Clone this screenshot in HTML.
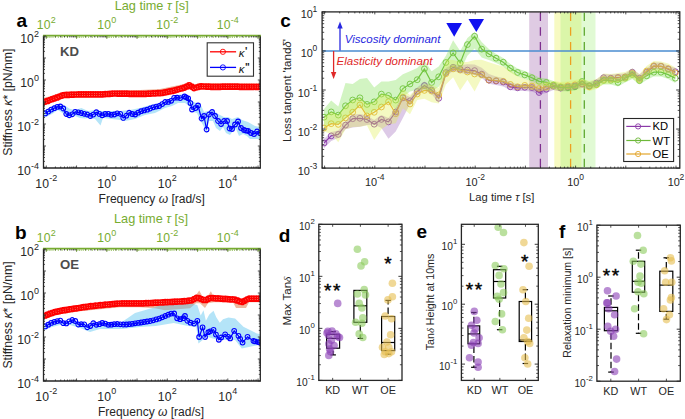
<!DOCTYPE html>
<html><head><meta charset="utf-8"><style>html,body{margin:0;padding:0;background:#fff;width:685px;height:419px;overflow:hidden}svg{display:block}text{font-family:"Liberation Sans",sans-serif}</style></head><body><svg width="685" height="419" viewBox="0 0 685 419" font-family="Liberation Sans, sans-serif"><clipPath id="cla"><rect x="43.5" y="36" width="216.8" height="132"/></clipPath>
<g clip-path="url(#cla)">
<path d="M44,98 L54,95 L64,92 L80,91.5 L100,91.5 L120,90.5 L140,90 L160,89 L172,86.5 L184,84 L189,82 L194,84.5 L200,83 L260,83.5 L260,88 L200,88 L194,89 L189,87 L184,89 L172,92 L160,95 L140,96 L120,96 L100,97 L80,97.5 L64,98 L54,101.5 L44,104Z" fill="#D95319" fill-opacity="0.42" stroke="none"/>
<path d="M44,111 L52,106 L58,104 L64,105 L69.5,108.7 L75,110 L81.4,108 L88,111 L95,110 L102,111 L110,111 L120,111 L130,110 L140,108 L150,105 L160,103 L170,99 L176,95 L185,94 L189,96 L192,101 L196,103 L200,103 L204,112 L208,111 L213,110 L218,114 L224,117 L228,117 L232,119 L238,117 L242,120 L248,122 L255,126 L260,127 L260,139 L255,139 L250,139 L247,136 L243,134 L239,136 L236,129 L233,131 L230,135 L226,133 L223,127 L220,131 L216,128 L213,121 L209,121 L206.5,133 L203,125 L200,120 L197,113 L193,112 L189,106 L185,103 L178,103 L172,106 L165,108 L155,113 L145,115 L135,119 L125,121 L120,120 L112,119 L103,118 L100.5,125.4 L95,119 L88,118 L85,118.5 L80,118 L75,116 L68,118 L64,114 L58,110 L52,114 L44,118Z" fill="#4DBEEE" fill-opacity="0.42" stroke="none"/>
<polyline points="45.2,101.6 47.6,100.9 50,100 52.4,99.1 54.8,98.3 57.2,97.4 59.6,96.5 62,95.6 64.4,95 66.8,94.9 69.2,94.8 71.6,94.7 74,94.6 76.4,94.5 78.8,94.4 81.2,94.4 83.6,94.4 86,94.4 88.4,94.4 90.8,94.4 93.2,94.4 95.6,94.4 98,94.4 100.4,94.4 102.8,94.3 105.2,94.1 107.6,94 110,93.8 112.4,93.6 114.8,93.5 117.2,93.6 119.6,93.6 122,93.7 124.4,93.7 126.8,93.7 129.2,93.8 131.6,93.8 134,93.8 136.4,93.8 138.8,93.9 141.2,93.9 143.6,93.9 146,93.8 148.4,93.7 150.8,93.6 153.2,93.4 155.6,93.3 158,93.2 160.4,93.1 162.8,92.8 165.2,92.3 167.6,91.8 170,91.3 172.4,90.9 174.8,90.3 177.2,89.6 179.6,89 182,88.3 184.4,87.6 186.8,86.5 189.2,85.3 191.6,86.7 194,88.2 196.4,87.5 198.8,86.8 201.2,86.4 203.6,86.5 206,86.6 208.4,86.7 210.8,86.8 213.2,86.8 215.6,86.9 218,86.8 220.4,86.8 222.8,86.7 225.2,86.7 227.6,86.6 230,86.6 232.4,86.6 234.8,86.7 237.2,86.7 239.6,86.8 242,86.8 244.4,86.9 246.8,86.9 249.2,86.9 251.6,86.9 254,86.8 256.4,86.8 258.8,86.8" fill="none" stroke="#FF0000" stroke-width="1.2"/>
<path d="M42.6,101.6a2.6,2.6 0 1,0 5.2,0a2.6,2.6 0 1,0 -5.2,0M45,100.9a2.6,2.6 0 1,0 5.2,0a2.6,2.6 0 1,0 -5.2,0M47.4,100a2.6,2.6 0 1,0 5.2,0a2.6,2.6 0 1,0 -5.2,0M49.8,99.1a2.6,2.6 0 1,0 5.2,0a2.6,2.6 0 1,0 -5.2,0M52.2,98.3a2.6,2.6 0 1,0 5.2,0a2.6,2.6 0 1,0 -5.2,0M54.6,97.4a2.6,2.6 0 1,0 5.2,0a2.6,2.6 0 1,0 -5.2,0M57,96.5a2.6,2.6 0 1,0 5.2,0a2.6,2.6 0 1,0 -5.2,0M59.4,95.6a2.6,2.6 0 1,0 5.2,0a2.6,2.6 0 1,0 -5.2,0M61.8,95a2.6,2.6 0 1,0 5.2,0a2.6,2.6 0 1,0 -5.2,0M64.2,94.9a2.6,2.6 0 1,0 5.2,0a2.6,2.6 0 1,0 -5.2,0M66.6,94.8a2.6,2.6 0 1,0 5.2,0a2.6,2.6 0 1,0 -5.2,0M69,94.7a2.6,2.6 0 1,0 5.2,0a2.6,2.6 0 1,0 -5.2,0M71.4,94.6a2.6,2.6 0 1,0 5.2,0a2.6,2.6 0 1,0 -5.2,0M73.8,94.5a2.6,2.6 0 1,0 5.2,0a2.6,2.6 0 1,0 -5.2,0M76.2,94.4a2.6,2.6 0 1,0 5.2,0a2.6,2.6 0 1,0 -5.2,0M78.6,94.4a2.6,2.6 0 1,0 5.2,0a2.6,2.6 0 1,0 -5.2,0M81,94.4a2.6,2.6 0 1,0 5.2,0a2.6,2.6 0 1,0 -5.2,0M83.4,94.4a2.6,2.6 0 1,0 5.2,0a2.6,2.6 0 1,0 -5.2,0M85.8,94.4a2.6,2.6 0 1,0 5.2,0a2.6,2.6 0 1,0 -5.2,0M88.2,94.4a2.6,2.6 0 1,0 5.2,0a2.6,2.6 0 1,0 -5.2,0M90.6,94.4a2.6,2.6 0 1,0 5.2,0a2.6,2.6 0 1,0 -5.2,0M93,94.4a2.6,2.6 0 1,0 5.2,0a2.6,2.6 0 1,0 -5.2,0M95.4,94.4a2.6,2.6 0 1,0 5.2,0a2.6,2.6 0 1,0 -5.2,0M97.8,94.4a2.6,2.6 0 1,0 5.2,0a2.6,2.6 0 1,0 -5.2,0M100.2,94.3a2.6,2.6 0 1,0 5.2,0a2.6,2.6 0 1,0 -5.2,0M102.6,94.1a2.6,2.6 0 1,0 5.2,0a2.6,2.6 0 1,0 -5.2,0M105,94a2.6,2.6 0 1,0 5.2,0a2.6,2.6 0 1,0 -5.2,0M107.4,93.8a2.6,2.6 0 1,0 5.2,0a2.6,2.6 0 1,0 -5.2,0M109.8,93.6a2.6,2.6 0 1,0 5.2,0a2.6,2.6 0 1,0 -5.2,0M112.2,93.5a2.6,2.6 0 1,0 5.2,0a2.6,2.6 0 1,0 -5.2,0M114.6,93.6a2.6,2.6 0 1,0 5.2,0a2.6,2.6 0 1,0 -5.2,0M117,93.6a2.6,2.6 0 1,0 5.2,0a2.6,2.6 0 1,0 -5.2,0M119.4,93.7a2.6,2.6 0 1,0 5.2,0a2.6,2.6 0 1,0 -5.2,0M121.8,93.7a2.6,2.6 0 1,0 5.2,0a2.6,2.6 0 1,0 -5.2,0M124.2,93.7a2.6,2.6 0 1,0 5.2,0a2.6,2.6 0 1,0 -5.2,0M126.6,93.8a2.6,2.6 0 1,0 5.2,0a2.6,2.6 0 1,0 -5.2,0M129,93.8a2.6,2.6 0 1,0 5.2,0a2.6,2.6 0 1,0 -5.2,0M131.4,93.8a2.6,2.6 0 1,0 5.2,0a2.6,2.6 0 1,0 -5.2,0M133.8,93.8a2.6,2.6 0 1,0 5.2,0a2.6,2.6 0 1,0 -5.2,0M136.2,93.9a2.6,2.6 0 1,0 5.2,0a2.6,2.6 0 1,0 -5.2,0M138.6,93.9a2.6,2.6 0 1,0 5.2,0a2.6,2.6 0 1,0 -5.2,0M141,93.9a2.6,2.6 0 1,0 5.2,0a2.6,2.6 0 1,0 -5.2,0M143.4,93.8a2.6,2.6 0 1,0 5.2,0a2.6,2.6 0 1,0 -5.2,0M145.8,93.7a2.6,2.6 0 1,0 5.2,0a2.6,2.6 0 1,0 -5.2,0M148.2,93.6a2.6,2.6 0 1,0 5.2,0a2.6,2.6 0 1,0 -5.2,0M150.6,93.4a2.6,2.6 0 1,0 5.2,0a2.6,2.6 0 1,0 -5.2,0M153,93.3a2.6,2.6 0 1,0 5.2,0a2.6,2.6 0 1,0 -5.2,0M155.4,93.2a2.6,2.6 0 1,0 5.2,0a2.6,2.6 0 1,0 -5.2,0M157.8,93.1a2.6,2.6 0 1,0 5.2,0a2.6,2.6 0 1,0 -5.2,0M160.2,92.8a2.6,2.6 0 1,0 5.2,0a2.6,2.6 0 1,0 -5.2,0M162.6,92.3a2.6,2.6 0 1,0 5.2,0a2.6,2.6 0 1,0 -5.2,0M165,91.8a2.6,2.6 0 1,0 5.2,0a2.6,2.6 0 1,0 -5.2,0M167.4,91.3a2.6,2.6 0 1,0 5.2,0a2.6,2.6 0 1,0 -5.2,0M169.8,90.9a2.6,2.6 0 1,0 5.2,0a2.6,2.6 0 1,0 -5.2,0M172.2,90.3a2.6,2.6 0 1,0 5.2,0a2.6,2.6 0 1,0 -5.2,0M174.6,89.6a2.6,2.6 0 1,0 5.2,0a2.6,2.6 0 1,0 -5.2,0M177,89a2.6,2.6 0 1,0 5.2,0a2.6,2.6 0 1,0 -5.2,0M179.4,88.3a2.6,2.6 0 1,0 5.2,0a2.6,2.6 0 1,0 -5.2,0M181.8,87.6a2.6,2.6 0 1,0 5.2,0a2.6,2.6 0 1,0 -5.2,0M184.2,86.5a2.6,2.6 0 1,0 5.2,0a2.6,2.6 0 1,0 -5.2,0M186.6,85.3a2.6,2.6 0 1,0 5.2,0a2.6,2.6 0 1,0 -5.2,0M189,86.7a2.6,2.6 0 1,0 5.2,0a2.6,2.6 0 1,0 -5.2,0M191.4,88.2a2.6,2.6 0 1,0 5.2,0a2.6,2.6 0 1,0 -5.2,0M193.8,87.5a2.6,2.6 0 1,0 5.2,0a2.6,2.6 0 1,0 -5.2,0M196.2,86.8a2.6,2.6 0 1,0 5.2,0a2.6,2.6 0 1,0 -5.2,0M198.6,86.4a2.6,2.6 0 1,0 5.2,0a2.6,2.6 0 1,0 -5.2,0M201,86.5a2.6,2.6 0 1,0 5.2,0a2.6,2.6 0 1,0 -5.2,0M203.4,86.6a2.6,2.6 0 1,0 5.2,0a2.6,2.6 0 1,0 -5.2,0M205.8,86.7a2.6,2.6 0 1,0 5.2,0a2.6,2.6 0 1,0 -5.2,0M208.2,86.8a2.6,2.6 0 1,0 5.2,0a2.6,2.6 0 1,0 -5.2,0M210.6,86.8a2.6,2.6 0 1,0 5.2,0a2.6,2.6 0 1,0 -5.2,0M213,86.9a2.6,2.6 0 1,0 5.2,0a2.6,2.6 0 1,0 -5.2,0M215.4,86.8a2.6,2.6 0 1,0 5.2,0a2.6,2.6 0 1,0 -5.2,0M217.8,86.8a2.6,2.6 0 1,0 5.2,0a2.6,2.6 0 1,0 -5.2,0M220.2,86.7a2.6,2.6 0 1,0 5.2,0a2.6,2.6 0 1,0 -5.2,0M222.6,86.7a2.6,2.6 0 1,0 5.2,0a2.6,2.6 0 1,0 -5.2,0M225,86.6a2.6,2.6 0 1,0 5.2,0a2.6,2.6 0 1,0 -5.2,0M227.4,86.6a2.6,2.6 0 1,0 5.2,0a2.6,2.6 0 1,0 -5.2,0M229.8,86.6a2.6,2.6 0 1,0 5.2,0a2.6,2.6 0 1,0 -5.2,0M232.2,86.7a2.6,2.6 0 1,0 5.2,0a2.6,2.6 0 1,0 -5.2,0M234.6,86.7a2.6,2.6 0 1,0 5.2,0a2.6,2.6 0 1,0 -5.2,0M237,86.8a2.6,2.6 0 1,0 5.2,0a2.6,2.6 0 1,0 -5.2,0M239.4,86.8a2.6,2.6 0 1,0 5.2,0a2.6,2.6 0 1,0 -5.2,0M241.8,86.9a2.6,2.6 0 1,0 5.2,0a2.6,2.6 0 1,0 -5.2,0M244.2,86.9a2.6,2.6 0 1,0 5.2,0a2.6,2.6 0 1,0 -5.2,0M246.6,86.9a2.6,2.6 0 1,0 5.2,0a2.6,2.6 0 1,0 -5.2,0M249,86.9a2.6,2.6 0 1,0 5.2,0a2.6,2.6 0 1,0 -5.2,0M251.4,86.8a2.6,2.6 0 1,0 5.2,0a2.6,2.6 0 1,0 -5.2,0M253.8,86.8a2.6,2.6 0 1,0 5.2,0a2.6,2.6 0 1,0 -5.2,0M256.2,86.8a2.6,2.6 0 1,0 5.2,0a2.6,2.6 0 1,0 -5.2,0" fill="none" stroke="#FF0000" stroke-width="1.5"/>
<polyline points="45.2,113.4 48.2,111.6 51.2,109.6 54.2,108.2 57.2,106.9 60.2,106.5 63.2,108.5 66.2,114 69.2,115.3 72.2,114.3 75.2,111.8 78.2,112.3 81.2,113 84.2,113.8 87.2,114.5 90.2,116 93.2,114.6 96.2,112.2 99.2,113.9 102.2,115.3 105.2,114 108.2,113.9 111.2,114.8 114.2,114.5 117.2,113.3 120.2,113.8 123.2,117.9 126.2,115.7 129.2,112.7 132.2,114 135.2,114.5 138.2,112.7 141.2,111.2 144.2,110.4 147.2,109.7 150.2,108.5 153.2,107.3 156.2,106.6 159.2,106 162.2,104.1 165.2,102 168.2,101.9 171.2,100.8 174.2,97.8 177.2,97.7 180.2,98.1 184.5,96.5 186.2,97.3 188.1,98.3 190.4,103.1 192,109.5 195.5,108 198,105.5 201.5,118.5 204,116 206.5,129.5 209,114.5 212,112 215,116 218,121 221,124 224,121 227,121 229.5,128.5 232,129 235,124.5 238,121.5 241,128 244,130 246.2,130.6 248,131 251,133 254,134 257,131.5 260,133" fill="none" stroke="#0000FF" stroke-width="1.2"/>
<path d="M42.9,113.4a2.35,2.35 0 1,0 4.7,0a2.35,2.35 0 1,0 -4.7,0M45.9,111.6a2.35,2.35 0 1,0 4.7,0a2.35,2.35 0 1,0 -4.7,0M48.9,109.6a2.35,2.35 0 1,0 4.7,0a2.35,2.35 0 1,0 -4.7,0M51.9,108.2a2.35,2.35 0 1,0 4.7,0a2.35,2.35 0 1,0 -4.7,0M54.9,106.9a2.35,2.35 0 1,0 4.7,0a2.35,2.35 0 1,0 -4.7,0M57.9,106.5a2.35,2.35 0 1,0 4.7,0a2.35,2.35 0 1,0 -4.7,0M60.9,108.5a2.35,2.35 0 1,0 4.7,0a2.35,2.35 0 1,0 -4.7,0M63.9,114a2.35,2.35 0 1,0 4.7,0a2.35,2.35 0 1,0 -4.7,0M66.9,115.3a2.35,2.35 0 1,0 4.7,0a2.35,2.35 0 1,0 -4.7,0M69.9,114.3a2.35,2.35 0 1,0 4.7,0a2.35,2.35 0 1,0 -4.7,0M72.9,111.8a2.35,2.35 0 1,0 4.7,0a2.35,2.35 0 1,0 -4.7,0M75.9,112.3a2.35,2.35 0 1,0 4.7,0a2.35,2.35 0 1,0 -4.7,0M78.9,113a2.35,2.35 0 1,0 4.7,0a2.35,2.35 0 1,0 -4.7,0M81.9,113.8a2.35,2.35 0 1,0 4.7,0a2.35,2.35 0 1,0 -4.7,0M84.9,114.5a2.35,2.35 0 1,0 4.7,0a2.35,2.35 0 1,0 -4.7,0M87.9,116a2.35,2.35 0 1,0 4.7,0a2.35,2.35 0 1,0 -4.7,0M90.9,114.6a2.35,2.35 0 1,0 4.7,0a2.35,2.35 0 1,0 -4.7,0M93.9,112.2a2.35,2.35 0 1,0 4.7,0a2.35,2.35 0 1,0 -4.7,0M96.9,113.9a2.35,2.35 0 1,0 4.7,0a2.35,2.35 0 1,0 -4.7,0M99.9,115.3a2.35,2.35 0 1,0 4.7,0a2.35,2.35 0 1,0 -4.7,0M102.9,114a2.35,2.35 0 1,0 4.7,0a2.35,2.35 0 1,0 -4.7,0M105.9,113.9a2.35,2.35 0 1,0 4.7,0a2.35,2.35 0 1,0 -4.7,0M108.9,114.8a2.35,2.35 0 1,0 4.7,0a2.35,2.35 0 1,0 -4.7,0M111.9,114.5a2.35,2.35 0 1,0 4.7,0a2.35,2.35 0 1,0 -4.7,0M114.9,113.3a2.35,2.35 0 1,0 4.7,0a2.35,2.35 0 1,0 -4.7,0M117.9,113.8a2.35,2.35 0 1,0 4.7,0a2.35,2.35 0 1,0 -4.7,0M120.9,117.9a2.35,2.35 0 1,0 4.7,0a2.35,2.35 0 1,0 -4.7,0M123.9,115.7a2.35,2.35 0 1,0 4.7,0a2.35,2.35 0 1,0 -4.7,0M126.8,112.7a2.35,2.35 0 1,0 4.7,0a2.35,2.35 0 1,0 -4.7,0M129.8,114a2.35,2.35 0 1,0 4.7,0a2.35,2.35 0 1,0 -4.7,0M132.8,114.5a2.35,2.35 0 1,0 4.7,0a2.35,2.35 0 1,0 -4.7,0M135.8,112.7a2.35,2.35 0 1,0 4.7,0a2.35,2.35 0 1,0 -4.7,0M138.8,111.2a2.35,2.35 0 1,0 4.7,0a2.35,2.35 0 1,0 -4.7,0M141.8,110.4a2.35,2.35 0 1,0 4.7,0a2.35,2.35 0 1,0 -4.7,0M144.8,109.7a2.35,2.35 0 1,0 4.7,0a2.35,2.35 0 1,0 -4.7,0M147.8,108.5a2.35,2.35 0 1,0 4.7,0a2.35,2.35 0 1,0 -4.7,0M150.8,107.3a2.35,2.35 0 1,0 4.7,0a2.35,2.35 0 1,0 -4.7,0M153.8,106.6a2.35,2.35 0 1,0 4.7,0a2.35,2.35 0 1,0 -4.7,0M156.8,106a2.35,2.35 0 1,0 4.7,0a2.35,2.35 0 1,0 -4.7,0M159.8,104.1a2.35,2.35 0 1,0 4.7,0a2.35,2.35 0 1,0 -4.7,0M162.8,102a2.35,2.35 0 1,0 4.7,0a2.35,2.35 0 1,0 -4.7,0M165.8,101.9a2.35,2.35 0 1,0 4.7,0a2.35,2.35 0 1,0 -4.7,0M168.8,100.8a2.35,2.35 0 1,0 4.7,0a2.35,2.35 0 1,0 -4.7,0M171.8,97.8a2.35,2.35 0 1,0 4.7,0a2.35,2.35 0 1,0 -4.7,0M174.8,97.7a2.35,2.35 0 1,0 4.7,0a2.35,2.35 0 1,0 -4.7,0M177.8,98.1a2.35,2.35 0 1,0 4.7,0a2.35,2.35 0 1,0 -4.7,0M182.2,96.5a2.35,2.35 0 1,0 4.7,0a2.35,2.35 0 1,0 -4.7,0M183.8,97.3a2.35,2.35 0 1,0 4.7,0a2.35,2.35 0 1,0 -4.7,0M185.8,98.3a2.35,2.35 0 1,0 4.7,0a2.35,2.35 0 1,0 -4.7,0M188.1,103.1a2.35,2.35 0 1,0 4.7,0a2.35,2.35 0 1,0 -4.7,0M189.7,109.5a2.35,2.35 0 1,0 4.7,0a2.35,2.35 0 1,0 -4.7,0M193.2,108a2.35,2.35 0 1,0 4.7,0a2.35,2.35 0 1,0 -4.7,0M195.7,105.5a2.35,2.35 0 1,0 4.7,0a2.35,2.35 0 1,0 -4.7,0M199.2,118.5a2.35,2.35 0 1,0 4.7,0a2.35,2.35 0 1,0 -4.7,0M201.7,116a2.35,2.35 0 1,0 4.7,0a2.35,2.35 0 1,0 -4.7,0M204.2,129.5a2.35,2.35 0 1,0 4.7,0a2.35,2.35 0 1,0 -4.7,0M206.7,114.5a2.35,2.35 0 1,0 4.7,0a2.35,2.35 0 1,0 -4.7,0M209.7,112a2.35,2.35 0 1,0 4.7,0a2.35,2.35 0 1,0 -4.7,0M212.7,116a2.35,2.35 0 1,0 4.7,0a2.35,2.35 0 1,0 -4.7,0M215.7,121a2.35,2.35 0 1,0 4.7,0a2.35,2.35 0 1,0 -4.7,0M218.7,124a2.35,2.35 0 1,0 4.7,0a2.35,2.35 0 1,0 -4.7,0M221.7,121a2.35,2.35 0 1,0 4.7,0a2.35,2.35 0 1,0 -4.7,0M224.7,121a2.35,2.35 0 1,0 4.7,0a2.35,2.35 0 1,0 -4.7,0M227.2,128.5a2.35,2.35 0 1,0 4.7,0a2.35,2.35 0 1,0 -4.7,0M229.7,129a2.35,2.35 0 1,0 4.7,0a2.35,2.35 0 1,0 -4.7,0M232.7,124.5a2.35,2.35 0 1,0 4.7,0a2.35,2.35 0 1,0 -4.7,0M235.7,121.5a2.35,2.35 0 1,0 4.7,0a2.35,2.35 0 1,0 -4.7,0M238.7,128a2.35,2.35 0 1,0 4.7,0a2.35,2.35 0 1,0 -4.7,0M241.7,130a2.35,2.35 0 1,0 4.7,0a2.35,2.35 0 1,0 -4.7,0M243.8,130.6a2.35,2.35 0 1,0 4.7,0a2.35,2.35 0 1,0 -4.7,0M245.7,131a2.35,2.35 0 1,0 4.7,0a2.35,2.35 0 1,0 -4.7,0M248.7,133a2.35,2.35 0 1,0 4.7,0a2.35,2.35 0 1,0 -4.7,0M251.7,134a2.35,2.35 0 1,0 4.7,0a2.35,2.35 0 1,0 -4.7,0M254.7,131.5a2.35,2.35 0 1,0 4.7,0a2.35,2.35 0 1,0 -4.7,0M257.6,133a2.35,2.35 0 1,0 4.7,0a2.35,2.35 0 1,0 -4.7,0" fill="none" stroke="#0000FF" stroke-width="1.1"/>
</g>
<clipPath id="clb"><rect x="43.5" y="249" width="216.8" height="132"/></clipPath>
<g clip-path="url(#clb)">
<path d="M44,313.2 L60,308.2 L80,305.2 L100,302.7 L120,301.2 L160,299.7 L190,298.2 L196,295.2 L199.2,290.4 L203,297.2 L207,297.2 L210.9,291.2 L214,297.2 L235,297.2 L242,299.7 L248,296.7 L260,296.7 L260,302.2 L249,302.2 L246,307.9 L236,307.9 L233,302.2 L214,302.2 L208,303.2 L205,307.9 L200,303.2 L196,303.2 L190,308.2 L165,310.2 L155,308.2 L140,307.2 L120,307.2 L100,309.2 L80,311.2 L60,314.2 L44,319.2Z" fill="#D95319" fill-opacity="0.42" stroke="none"/>
<path d="M44,325 L52,321 L60,319.5 L65,323 L71,319.5 L78,322 L84,322.5 L89,325 L92,322 L97,323 L103,321.5 L109,323 L116,322 L122,322 L135,313 L155.8,306.9 L160.6,305.1 L175,304 L191.6,303.5 L197.3,305 L200.7,315.5 L203.5,310.3 L205.9,320.8 L209.3,314.5 L213.5,310.7 L216.4,317.4 L219.8,322.7 L223,319.3 L228.4,317.6 L235.1,318.4 L243.4,326.7 L256.8,333.4 L260,334 L260,345 L258.5,345.1 L241.8,348.4 L235.1,340.1 L218.4,340.1 L206.7,336.8 L198.4,343.4 L196.4,327.2 L185.7,325.4 L173.7,323 L155.8,326 L140,327 L122,329 L110,329 L100,329 L90,332 L80,328 L70,325 L60,325 L52,327 L44,330Z" fill="#4DBEEE" fill-opacity="0.42" stroke="none"/>
<polyline points="45.2,315.5 47.6,314.6 50,313.7 52.4,312.8 54.8,312 57.2,311.6 59.6,311.1 62,310.6 64.4,310.2 66.8,309.8 69.2,309.4 71.6,309 74,308.7 76.4,308.3 78.8,308 81.2,307.6 83.6,307.2 86,306.9 88.4,306.5 90.8,306.2 93.2,306 95.6,305.7 98,305.5 100.4,305.2 102.8,305 105.2,304.7 107.6,304.5 110,304.3 112.4,304 114.8,303.8 117.2,303.6 119.6,303.5 122,303.3 124.4,303.3 126.8,303.3 129.2,303.3 131.6,303.3 134,303.3 136.4,303.3 138.8,303.3 141.2,303.3 143.6,303.3 146,303.2 148.4,303.1 150.8,303 153.2,302.8 155.6,302.7 158,302.6 160.4,302.5 162.8,302.4 165.2,302.2 167.6,302.1 170,302 172.4,301.9 174.8,301.7 177.2,301.6 179.6,301.5 182,301.4 184.4,301.2 186.8,301 189.2,300.6 191.6,300.3 194,299.1 196.4,297.9 198.8,298.1 201.2,299 203.6,299.9 206,299.9 208.4,298.7 210.8,298 213.2,298.1 215.6,298.3 218,298.4 220.4,298.6 222.8,298.8 225.2,298.9 227.6,299.1 230,299.3 232.4,299.4 234.8,299.6 237.2,300.4 239.6,301.3 242,302 244.4,300.8 246.8,299.5 249.2,298.7 251.6,298.7 254,298.7 256.4,298.7 258.8,298.7" fill="none" stroke="#FF0000" stroke-width="1.2"/>
<path d="M42.6,315.5a2.6,2.6 0 1,0 5.2,0a2.6,2.6 0 1,0 -5.2,0M45,314.6a2.6,2.6 0 1,0 5.2,0a2.6,2.6 0 1,0 -5.2,0M47.4,313.7a2.6,2.6 0 1,0 5.2,0a2.6,2.6 0 1,0 -5.2,0M49.8,312.8a2.6,2.6 0 1,0 5.2,0a2.6,2.6 0 1,0 -5.2,0M52.2,312a2.6,2.6 0 1,0 5.2,0a2.6,2.6 0 1,0 -5.2,0M54.6,311.6a2.6,2.6 0 1,0 5.2,0a2.6,2.6 0 1,0 -5.2,0M57,311.1a2.6,2.6 0 1,0 5.2,0a2.6,2.6 0 1,0 -5.2,0M59.4,310.6a2.6,2.6 0 1,0 5.2,0a2.6,2.6 0 1,0 -5.2,0M61.8,310.2a2.6,2.6 0 1,0 5.2,0a2.6,2.6 0 1,0 -5.2,0M64.2,309.8a2.6,2.6 0 1,0 5.2,0a2.6,2.6 0 1,0 -5.2,0M66.6,309.4a2.6,2.6 0 1,0 5.2,0a2.6,2.6 0 1,0 -5.2,0M69,309a2.6,2.6 0 1,0 5.2,0a2.6,2.6 0 1,0 -5.2,0M71.4,308.7a2.6,2.6 0 1,0 5.2,0a2.6,2.6 0 1,0 -5.2,0M73.8,308.3a2.6,2.6 0 1,0 5.2,0a2.6,2.6 0 1,0 -5.2,0M76.2,308a2.6,2.6 0 1,0 5.2,0a2.6,2.6 0 1,0 -5.2,0M78.6,307.6a2.6,2.6 0 1,0 5.2,0a2.6,2.6 0 1,0 -5.2,0M81,307.2a2.6,2.6 0 1,0 5.2,0a2.6,2.6 0 1,0 -5.2,0M83.4,306.9a2.6,2.6 0 1,0 5.2,0a2.6,2.6 0 1,0 -5.2,0M85.8,306.5a2.6,2.6 0 1,0 5.2,0a2.6,2.6 0 1,0 -5.2,0M88.2,306.2a2.6,2.6 0 1,0 5.2,0a2.6,2.6 0 1,0 -5.2,0M90.6,306a2.6,2.6 0 1,0 5.2,0a2.6,2.6 0 1,0 -5.2,0M93,305.7a2.6,2.6 0 1,0 5.2,0a2.6,2.6 0 1,0 -5.2,0M95.4,305.5a2.6,2.6 0 1,0 5.2,0a2.6,2.6 0 1,0 -5.2,0M97.8,305.2a2.6,2.6 0 1,0 5.2,0a2.6,2.6 0 1,0 -5.2,0M100.2,305a2.6,2.6 0 1,0 5.2,0a2.6,2.6 0 1,0 -5.2,0M102.6,304.7a2.6,2.6 0 1,0 5.2,0a2.6,2.6 0 1,0 -5.2,0M105,304.5a2.6,2.6 0 1,0 5.2,0a2.6,2.6 0 1,0 -5.2,0M107.4,304.3a2.6,2.6 0 1,0 5.2,0a2.6,2.6 0 1,0 -5.2,0M109.8,304a2.6,2.6 0 1,0 5.2,0a2.6,2.6 0 1,0 -5.2,0M112.2,303.8a2.6,2.6 0 1,0 5.2,0a2.6,2.6 0 1,0 -5.2,0M114.6,303.6a2.6,2.6 0 1,0 5.2,0a2.6,2.6 0 1,0 -5.2,0M117,303.5a2.6,2.6 0 1,0 5.2,0a2.6,2.6 0 1,0 -5.2,0M119.4,303.3a2.6,2.6 0 1,0 5.2,0a2.6,2.6 0 1,0 -5.2,0M121.8,303.3a2.6,2.6 0 1,0 5.2,0a2.6,2.6 0 1,0 -5.2,0M124.2,303.3a2.6,2.6 0 1,0 5.2,0a2.6,2.6 0 1,0 -5.2,0M126.6,303.3a2.6,2.6 0 1,0 5.2,0a2.6,2.6 0 1,0 -5.2,0M129,303.3a2.6,2.6 0 1,0 5.2,0a2.6,2.6 0 1,0 -5.2,0M131.4,303.3a2.6,2.6 0 1,0 5.2,0a2.6,2.6 0 1,0 -5.2,0M133.8,303.3a2.6,2.6 0 1,0 5.2,0a2.6,2.6 0 1,0 -5.2,0M136.2,303.3a2.6,2.6 0 1,0 5.2,0a2.6,2.6 0 1,0 -5.2,0M138.6,303.3a2.6,2.6 0 1,0 5.2,0a2.6,2.6 0 1,0 -5.2,0M141,303.3a2.6,2.6 0 1,0 5.2,0a2.6,2.6 0 1,0 -5.2,0M143.4,303.2a2.6,2.6 0 1,0 5.2,0a2.6,2.6 0 1,0 -5.2,0M145.8,303.1a2.6,2.6 0 1,0 5.2,0a2.6,2.6 0 1,0 -5.2,0M148.2,303a2.6,2.6 0 1,0 5.2,0a2.6,2.6 0 1,0 -5.2,0M150.6,302.8a2.6,2.6 0 1,0 5.2,0a2.6,2.6 0 1,0 -5.2,0M153,302.7a2.6,2.6 0 1,0 5.2,0a2.6,2.6 0 1,0 -5.2,0M155.4,302.6a2.6,2.6 0 1,0 5.2,0a2.6,2.6 0 1,0 -5.2,0M157.8,302.5a2.6,2.6 0 1,0 5.2,0a2.6,2.6 0 1,0 -5.2,0M160.2,302.4a2.6,2.6 0 1,0 5.2,0a2.6,2.6 0 1,0 -5.2,0M162.6,302.2a2.6,2.6 0 1,0 5.2,0a2.6,2.6 0 1,0 -5.2,0M165,302.1a2.6,2.6 0 1,0 5.2,0a2.6,2.6 0 1,0 -5.2,0M167.4,302a2.6,2.6 0 1,0 5.2,0a2.6,2.6 0 1,0 -5.2,0M169.8,301.9a2.6,2.6 0 1,0 5.2,0a2.6,2.6 0 1,0 -5.2,0M172.2,301.7a2.6,2.6 0 1,0 5.2,0a2.6,2.6 0 1,0 -5.2,0M174.6,301.6a2.6,2.6 0 1,0 5.2,0a2.6,2.6 0 1,0 -5.2,0M177,301.5a2.6,2.6 0 1,0 5.2,0a2.6,2.6 0 1,0 -5.2,0M179.4,301.4a2.6,2.6 0 1,0 5.2,0a2.6,2.6 0 1,0 -5.2,0M181.8,301.2a2.6,2.6 0 1,0 5.2,0a2.6,2.6 0 1,0 -5.2,0M184.2,301a2.6,2.6 0 1,0 5.2,0a2.6,2.6 0 1,0 -5.2,0M186.6,300.6a2.6,2.6 0 1,0 5.2,0a2.6,2.6 0 1,0 -5.2,0M189,300.3a2.6,2.6 0 1,0 5.2,0a2.6,2.6 0 1,0 -5.2,0M191.4,299.1a2.6,2.6 0 1,0 5.2,0a2.6,2.6 0 1,0 -5.2,0M193.8,297.9a2.6,2.6 0 1,0 5.2,0a2.6,2.6 0 1,0 -5.2,0M196.2,298.1a2.6,2.6 0 1,0 5.2,0a2.6,2.6 0 1,0 -5.2,0M198.6,299a2.6,2.6 0 1,0 5.2,0a2.6,2.6 0 1,0 -5.2,0M201,299.9a2.6,2.6 0 1,0 5.2,0a2.6,2.6 0 1,0 -5.2,0M203.4,299.9a2.6,2.6 0 1,0 5.2,0a2.6,2.6 0 1,0 -5.2,0M205.8,298.7a2.6,2.6 0 1,0 5.2,0a2.6,2.6 0 1,0 -5.2,0M208.2,298a2.6,2.6 0 1,0 5.2,0a2.6,2.6 0 1,0 -5.2,0M210.6,298.1a2.6,2.6 0 1,0 5.2,0a2.6,2.6 0 1,0 -5.2,0M213,298.3a2.6,2.6 0 1,0 5.2,0a2.6,2.6 0 1,0 -5.2,0M215.4,298.4a2.6,2.6 0 1,0 5.2,0a2.6,2.6 0 1,0 -5.2,0M217.8,298.6a2.6,2.6 0 1,0 5.2,0a2.6,2.6 0 1,0 -5.2,0M220.2,298.8a2.6,2.6 0 1,0 5.2,0a2.6,2.6 0 1,0 -5.2,0M222.6,298.9a2.6,2.6 0 1,0 5.2,0a2.6,2.6 0 1,0 -5.2,0M225,299.1a2.6,2.6 0 1,0 5.2,0a2.6,2.6 0 1,0 -5.2,0M227.4,299.3a2.6,2.6 0 1,0 5.2,0a2.6,2.6 0 1,0 -5.2,0M229.8,299.4a2.6,2.6 0 1,0 5.2,0a2.6,2.6 0 1,0 -5.2,0M232.2,299.6a2.6,2.6 0 1,0 5.2,0a2.6,2.6 0 1,0 -5.2,0M234.6,300.4a2.6,2.6 0 1,0 5.2,0a2.6,2.6 0 1,0 -5.2,0M237,301.3a2.6,2.6 0 1,0 5.2,0a2.6,2.6 0 1,0 -5.2,0M239.4,302a2.6,2.6 0 1,0 5.2,0a2.6,2.6 0 1,0 -5.2,0M241.8,300.8a2.6,2.6 0 1,0 5.2,0a2.6,2.6 0 1,0 -5.2,0M244.2,299.5a2.6,2.6 0 1,0 5.2,0a2.6,2.6 0 1,0 -5.2,0M246.6,298.7a2.6,2.6 0 1,0 5.2,0a2.6,2.6 0 1,0 -5.2,0M249,298.7a2.6,2.6 0 1,0 5.2,0a2.6,2.6 0 1,0 -5.2,0M251.4,298.7a2.6,2.6 0 1,0 5.2,0a2.6,2.6 0 1,0 -5.2,0M253.8,298.7a2.6,2.6 0 1,0 5.2,0a2.6,2.6 0 1,0 -5.2,0M256.2,298.7a2.6,2.6 0 1,0 5.2,0a2.6,2.6 0 1,0 -5.2,0" fill="none" stroke="#FF0000" stroke-width="1.5"/>
<polyline points="45.2,326.4 48.2,324.7 51.2,322.9 54.2,321.9 57.2,321.1 60.2,320.6 63.2,323.2 66.2,323.4 69.2,321.4 72.2,320 75.2,321 78.2,324.5 81.2,324.2 84.2,324.3 87.2,327.3 90.2,326 93.2,323.2 96.2,324.8 99.2,324.2 102.2,323 105.2,323.6 108.2,324.8 111.2,324.7 114.2,324.2 117.2,324 120.2,324.3 123.2,324.5 126.2,324.5 129.2,324.2 132.2,323.8 135.2,323.3 138.2,322.9 141.2,322.5 144.2,322 147.2,321.5 150.2,321 153.2,320.3 156.2,319.4 159.2,318.6 162.2,317.3 165.2,316 168.2,314.7 171.2,313.6 174.2,313.5 177.2,318.3 180.2,319.2 183.2,318.2 184.9,316 187.3,320.8 190.6,322.7 194,323.6 197.3,320.8 199.2,337 202.6,327.4 205,337 208.3,332.2 210.2,331.3 213.5,329.8 215.9,334.6 218.8,339.8 221.2,337.5 225.1,334.3 228.2,336.8 230.1,338.4 234.2,330.9 238.4,335.9 240.2,338.8 242.6,342.6 247.6,336.8 253.4,340.9 255.2,341.4 258.2,342.1 260,342.6" fill="none" stroke="#0000FF" stroke-width="1.2"/>
<path d="M42.9,326.4a2.35,2.35 0 1,0 4.7,0a2.35,2.35 0 1,0 -4.7,0M45.9,324.7a2.35,2.35 0 1,0 4.7,0a2.35,2.35 0 1,0 -4.7,0M48.9,322.9a2.35,2.35 0 1,0 4.7,0a2.35,2.35 0 1,0 -4.7,0M51.9,321.9a2.35,2.35 0 1,0 4.7,0a2.35,2.35 0 1,0 -4.7,0M54.9,321.1a2.35,2.35 0 1,0 4.7,0a2.35,2.35 0 1,0 -4.7,0M57.9,320.6a2.35,2.35 0 1,0 4.7,0a2.35,2.35 0 1,0 -4.7,0M60.9,323.2a2.35,2.35 0 1,0 4.7,0a2.35,2.35 0 1,0 -4.7,0M63.9,323.4a2.35,2.35 0 1,0 4.7,0a2.35,2.35 0 1,0 -4.7,0M66.9,321.4a2.35,2.35 0 1,0 4.7,0a2.35,2.35 0 1,0 -4.7,0M69.9,320a2.35,2.35 0 1,0 4.7,0a2.35,2.35 0 1,0 -4.7,0M72.9,321a2.35,2.35 0 1,0 4.7,0a2.35,2.35 0 1,0 -4.7,0M75.9,324.5a2.35,2.35 0 1,0 4.7,0a2.35,2.35 0 1,0 -4.7,0M78.9,324.2a2.35,2.35 0 1,0 4.7,0a2.35,2.35 0 1,0 -4.7,0M81.9,324.3a2.35,2.35 0 1,0 4.7,0a2.35,2.35 0 1,0 -4.7,0M84.9,327.3a2.35,2.35 0 1,0 4.7,0a2.35,2.35 0 1,0 -4.7,0M87.9,326a2.35,2.35 0 1,0 4.7,0a2.35,2.35 0 1,0 -4.7,0M90.9,323.2a2.35,2.35 0 1,0 4.7,0a2.35,2.35 0 1,0 -4.7,0M93.9,324.8a2.35,2.35 0 1,0 4.7,0a2.35,2.35 0 1,0 -4.7,0M96.9,324.2a2.35,2.35 0 1,0 4.7,0a2.35,2.35 0 1,0 -4.7,0M99.9,323a2.35,2.35 0 1,0 4.7,0a2.35,2.35 0 1,0 -4.7,0M102.9,323.6a2.35,2.35 0 1,0 4.7,0a2.35,2.35 0 1,0 -4.7,0M105.9,324.8a2.35,2.35 0 1,0 4.7,0a2.35,2.35 0 1,0 -4.7,0M108.9,324.7a2.35,2.35 0 1,0 4.7,0a2.35,2.35 0 1,0 -4.7,0M111.9,324.2a2.35,2.35 0 1,0 4.7,0a2.35,2.35 0 1,0 -4.7,0M114.9,324a2.35,2.35 0 1,0 4.7,0a2.35,2.35 0 1,0 -4.7,0M117.9,324.3a2.35,2.35 0 1,0 4.7,0a2.35,2.35 0 1,0 -4.7,0M120.9,324.5a2.35,2.35 0 1,0 4.7,0a2.35,2.35 0 1,0 -4.7,0M123.9,324.5a2.35,2.35 0 1,0 4.7,0a2.35,2.35 0 1,0 -4.7,0M126.8,324.2a2.35,2.35 0 1,0 4.7,0a2.35,2.35 0 1,0 -4.7,0M129.8,323.8a2.35,2.35 0 1,0 4.7,0a2.35,2.35 0 1,0 -4.7,0M132.8,323.3a2.35,2.35 0 1,0 4.7,0a2.35,2.35 0 1,0 -4.7,0M135.8,322.9a2.35,2.35 0 1,0 4.7,0a2.35,2.35 0 1,0 -4.7,0M138.8,322.5a2.35,2.35 0 1,0 4.7,0a2.35,2.35 0 1,0 -4.7,0M141.8,322a2.35,2.35 0 1,0 4.7,0a2.35,2.35 0 1,0 -4.7,0M144.8,321.5a2.35,2.35 0 1,0 4.7,0a2.35,2.35 0 1,0 -4.7,0M147.8,321a2.35,2.35 0 1,0 4.7,0a2.35,2.35 0 1,0 -4.7,0M150.8,320.3a2.35,2.35 0 1,0 4.7,0a2.35,2.35 0 1,0 -4.7,0M153.8,319.4a2.35,2.35 0 1,0 4.7,0a2.35,2.35 0 1,0 -4.7,0M156.8,318.6a2.35,2.35 0 1,0 4.7,0a2.35,2.35 0 1,0 -4.7,0M159.8,317.3a2.35,2.35 0 1,0 4.7,0a2.35,2.35 0 1,0 -4.7,0M162.8,316a2.35,2.35 0 1,0 4.7,0a2.35,2.35 0 1,0 -4.7,0M165.8,314.7a2.35,2.35 0 1,0 4.7,0a2.35,2.35 0 1,0 -4.7,0M168.8,313.6a2.35,2.35 0 1,0 4.7,0a2.35,2.35 0 1,0 -4.7,0M171.8,313.5a2.35,2.35 0 1,0 4.7,0a2.35,2.35 0 1,0 -4.7,0M174.8,318.3a2.35,2.35 0 1,0 4.7,0a2.35,2.35 0 1,0 -4.7,0M177.8,319.2a2.35,2.35 0 1,0 4.7,0a2.35,2.35 0 1,0 -4.7,0M180.8,318.2a2.35,2.35 0 1,0 4.7,0a2.35,2.35 0 1,0 -4.7,0M182.6,316a2.35,2.35 0 1,0 4.7,0a2.35,2.35 0 1,0 -4.7,0M185,320.8a2.35,2.35 0 1,0 4.7,0a2.35,2.35 0 1,0 -4.7,0M188.2,322.7a2.35,2.35 0 1,0 4.7,0a2.35,2.35 0 1,0 -4.7,0M191.7,323.6a2.35,2.35 0 1,0 4.7,0a2.35,2.35 0 1,0 -4.7,0M195,320.8a2.35,2.35 0 1,0 4.7,0a2.35,2.35 0 1,0 -4.7,0M196.8,337a2.35,2.35 0 1,0 4.7,0a2.35,2.35 0 1,0 -4.7,0M200.2,327.4a2.35,2.35 0 1,0 4.7,0a2.35,2.35 0 1,0 -4.7,0M202.7,337a2.35,2.35 0 1,0 4.7,0a2.35,2.35 0 1,0 -4.7,0M206,332.2a2.35,2.35 0 1,0 4.7,0a2.35,2.35 0 1,0 -4.7,0M207.8,331.3a2.35,2.35 0 1,0 4.7,0a2.35,2.35 0 1,0 -4.7,0M211.2,329.8a2.35,2.35 0 1,0 4.7,0a2.35,2.35 0 1,0 -4.7,0M213.6,334.6a2.35,2.35 0 1,0 4.7,0a2.35,2.35 0 1,0 -4.7,0M216.5,339.8a2.35,2.35 0 1,0 4.7,0a2.35,2.35 0 1,0 -4.7,0M218.8,337.5a2.35,2.35 0 1,0 4.7,0a2.35,2.35 0 1,0 -4.7,0M222.8,334.3a2.35,2.35 0 1,0 4.7,0a2.35,2.35 0 1,0 -4.7,0M225.8,336.8a2.35,2.35 0 1,0 4.7,0a2.35,2.35 0 1,0 -4.7,0M227.8,338.4a2.35,2.35 0 1,0 4.7,0a2.35,2.35 0 1,0 -4.7,0M231.8,330.9a2.35,2.35 0 1,0 4.7,0a2.35,2.35 0 1,0 -4.7,0M236.1,335.9a2.35,2.35 0 1,0 4.7,0a2.35,2.35 0 1,0 -4.7,0M237.8,338.8a2.35,2.35 0 1,0 4.7,0a2.35,2.35 0 1,0 -4.7,0M240.2,342.6a2.35,2.35 0 1,0 4.7,0a2.35,2.35 0 1,0 -4.7,0M245.2,336.8a2.35,2.35 0 1,0 4.7,0a2.35,2.35 0 1,0 -4.7,0M251.1,340.9a2.35,2.35 0 1,0 4.7,0a2.35,2.35 0 1,0 -4.7,0M252.8,341.4a2.35,2.35 0 1,0 4.7,0a2.35,2.35 0 1,0 -4.7,0M255.8,342.1a2.35,2.35 0 1,0 4.7,0a2.35,2.35 0 1,0 -4.7,0M257.6,342.6a2.35,2.35 0 1,0 4.7,0a2.35,2.35 0 1,0 -4.7,0" fill="none" stroke="#0000FF" stroke-width="1.1"/>
</g>
<clipPath id="clc"><rect x="322.1" y="11.9" width="357.7" height="156.2"/></clipPath>
<g clip-path="url(#clc)">
<rect x="529.2" y="11.9" width="18.8" height="156.2" fill="#7E2F8E" fill-opacity="0.25"/>
<rect x="554.3" y="11.9" width="27.2" height="156.2" fill="#E8F050" fill-opacity="0.35"/>
<rect x="560.5" y="11.9" width="35" height="156.2" fill="#9AF070" fill-opacity="0.3"/>
<line x1="540.4" y1="11.9" x2="540.4" y2="168.1" stroke="#7E2F8E" stroke-width="1.3" stroke-dasharray="8.4 6.2" stroke-dashoffset="13.8"/>
<line x1="570.6" y1="11.9" x2="570.6" y2="168.1" stroke="#EDA020" stroke-width="1.3" stroke-dasharray="8.4 6.2" stroke-dashoffset="13.8"/>
<line x1="584.3" y1="11.9" x2="584.3" y2="168.1" stroke="#5FA830" stroke-width="1.3" stroke-dasharray="8.4 6.2" stroke-dashoffset="13.8"/>
<line x1="322.1" y1="50.95" x2="679.8" y2="50.95" stroke="#4A8CD0" stroke-width="1.5"/>
<polyline points="324,143 331.2,135.9 338.3,134.4 345.5,125.1 352.7,118.7 359.9,118.3 367,119.5 374.2,124.2 381.4,119.4 388.5,121.9 395.7,112 402.9,97.9 410,100.8 417.2,91.5 424.4,85.5 431.6,90 438.7,98.3 445.9,72.5 453.1,67.3 460.2,69.2 467.4,70.1 474.6,70.6 481.7,74.2 488.9,80.1 496.1,81 503.2,82 510.4,86.8 517.6,87.8 524.8,87.3 531.9,87.5 539.1,92.5 546.3,89.2 553.4,86.2 560.6,88 567.8,87 575,86 582.1,84 589.3,86 596.5,83 603.6,77.7 610.8,78.2 618,77.5 625.1,77 632.3,72.2 639.5,78.2 646.6,72.2 653.8,66.3 661,66.3 668.2,69.1 675.3,71.7" fill="none" stroke="#8B3AA8" stroke-width="1.2"/>
<path d="M321.1,143a2.9,2.9 0 1,0 5.8,0a2.9,2.9 0 1,0 -5.8,0M328.3,135.9a2.9,2.9 0 1,0 5.8,0a2.9,2.9 0 1,0 -5.8,0M335.4,134.4a2.9,2.9 0 1,0 5.8,0a2.9,2.9 0 1,0 -5.8,0M342.6,125.1a2.9,2.9 0 1,0 5.8,0a2.9,2.9 0 1,0 -5.8,0M349.8,118.7a2.9,2.9 0 1,0 5.8,0a2.9,2.9 0 1,0 -5.8,0M357,118.3a2.9,2.9 0 1,0 5.8,0a2.9,2.9 0 1,0 -5.8,0M364.1,119.5a2.9,2.9 0 1,0 5.8,0a2.9,2.9 0 1,0 -5.8,0M371.3,124.2a2.9,2.9 0 1,0 5.8,0a2.9,2.9 0 1,0 -5.8,0M378.5,119.4a2.9,2.9 0 1,0 5.8,0a2.9,2.9 0 1,0 -5.8,0M385.6,121.9a2.9,2.9 0 1,0 5.8,0a2.9,2.9 0 1,0 -5.8,0M392.8,112a2.9,2.9 0 1,0 5.8,0a2.9,2.9 0 1,0 -5.8,0M400,97.9a2.9,2.9 0 1,0 5.8,0a2.9,2.9 0 1,0 -5.8,0M407.1,100.8a2.9,2.9 0 1,0 5.8,0a2.9,2.9 0 1,0 -5.8,0M414.3,91.5a2.9,2.9 0 1,0 5.8,0a2.9,2.9 0 1,0 -5.8,0M421.5,85.5a2.9,2.9 0 1,0 5.8,0a2.9,2.9 0 1,0 -5.8,0M428.7,90a2.9,2.9 0 1,0 5.8,0a2.9,2.9 0 1,0 -5.8,0M435.8,98.3a2.9,2.9 0 1,0 5.8,0a2.9,2.9 0 1,0 -5.8,0M443,72.5a2.9,2.9 0 1,0 5.8,0a2.9,2.9 0 1,0 -5.8,0M450.2,67.3a2.9,2.9 0 1,0 5.8,0a2.9,2.9 0 1,0 -5.8,0M457.3,69.2a2.9,2.9 0 1,0 5.8,0a2.9,2.9 0 1,0 -5.8,0M464.5,70.1a2.9,2.9 0 1,0 5.8,0a2.9,2.9 0 1,0 -5.8,0M471.7,70.6a2.9,2.9 0 1,0 5.8,0a2.9,2.9 0 1,0 -5.8,0M478.8,74.2a2.9,2.9 0 1,0 5.8,0a2.9,2.9 0 1,0 -5.8,0M486,80.1a2.9,2.9 0 1,0 5.8,0a2.9,2.9 0 1,0 -5.8,0M493.2,81a2.9,2.9 0 1,0 5.8,0a2.9,2.9 0 1,0 -5.8,0M500.4,82a2.9,2.9 0 1,0 5.8,0a2.9,2.9 0 1,0 -5.8,0M507.5,86.8a2.9,2.9 0 1,0 5.8,0a2.9,2.9 0 1,0 -5.8,0M514.7,87.8a2.9,2.9 0 1,0 5.8,0a2.9,2.9 0 1,0 -5.8,0M521.9,87.3a2.9,2.9 0 1,0 5.8,0a2.9,2.9 0 1,0 -5.8,0M529,87.5a2.9,2.9 0 1,0 5.8,0a2.9,2.9 0 1,0 -5.8,0M536.2,92.5a2.9,2.9 0 1,0 5.8,0a2.9,2.9 0 1,0 -5.8,0M543.4,89.2a2.9,2.9 0 1,0 5.8,0a2.9,2.9 0 1,0 -5.8,0M550.5,86.2a2.9,2.9 0 1,0 5.8,0a2.9,2.9 0 1,0 -5.8,0M557.7,88a2.9,2.9 0 1,0 5.8,0a2.9,2.9 0 1,0 -5.8,0M564.9,87a2.9,2.9 0 1,0 5.8,0a2.9,2.9 0 1,0 -5.8,0M572.1,86a2.9,2.9 0 1,0 5.8,0a2.9,2.9 0 1,0 -5.8,0M579.2,84a2.9,2.9 0 1,0 5.8,0a2.9,2.9 0 1,0 -5.8,0M586.4,86a2.9,2.9 0 1,0 5.8,0a2.9,2.9 0 1,0 -5.8,0M593.6,83a2.9,2.9 0 1,0 5.8,0a2.9,2.9 0 1,0 -5.8,0M600.7,77.7a2.9,2.9 0 1,0 5.8,0a2.9,2.9 0 1,0 -5.8,0M607.9,78.2a2.9,2.9 0 1,0 5.8,0a2.9,2.9 0 1,0 -5.8,0M615.1,77.5a2.9,2.9 0 1,0 5.8,0a2.9,2.9 0 1,0 -5.8,0M622.2,77a2.9,2.9 0 1,0 5.8,0a2.9,2.9 0 1,0 -5.8,0M629.4,72.2a2.9,2.9 0 1,0 5.8,0a2.9,2.9 0 1,0 -5.8,0M636.6,78.2a2.9,2.9 0 1,0 5.8,0a2.9,2.9 0 1,0 -5.8,0M643.8,72.2a2.9,2.9 0 1,0 5.8,0a2.9,2.9 0 1,0 -5.8,0M650.9,66.3a2.9,2.9 0 1,0 5.8,0a2.9,2.9 0 1,0 -5.8,0M658.1,66.3a2.9,2.9 0 1,0 5.8,0a2.9,2.9 0 1,0 -5.8,0M665.3,69.1a2.9,2.9 0 1,0 5.8,0a2.9,2.9 0 1,0 -5.8,0M672.4,71.7a2.9,2.9 0 1,0 5.8,0a2.9,2.9 0 1,0 -5.8,0" fill="none" stroke="#8B3AA8" stroke-width="0.9"/>
<polyline points="324,128 331.2,123.7 338.3,124.4 345.5,117.9 352.7,112.2 359.9,104.9 367,115.9 374.2,112.3 381.4,107 388.5,101.8 395.7,113.7 402.9,97.2 410,104 417.2,94 424.4,90.4 431.6,91.1 438.7,95 445.9,73.7 453.1,68.9 460.2,70.1 467.4,72 474.6,74 481.7,74.9 488.9,80.1 496.1,80.6 503.2,81.3 510.4,84.4 517.6,86.8 524.8,85.4 531.9,86.1 539.1,88.5 546.3,87 553.4,85.4 560.6,86.8 567.8,85.8 575,84.8 582.1,83.5 589.3,86.8 596.5,84.8 603.6,79.5 610.8,79 618,78 625.1,77 632.3,73.4 639.5,79.4 646.6,71 653.8,65.8 661,66.3 668.2,68.6 675.3,72.9" fill="none" stroke="#E3A52A" stroke-width="1.2"/>
<path d="M321.1,128a2.9,2.9 0 1,0 5.8,0a2.9,2.9 0 1,0 -5.8,0M328.3,123.7a2.9,2.9 0 1,0 5.8,0a2.9,2.9 0 1,0 -5.8,0M335.4,124.4a2.9,2.9 0 1,0 5.8,0a2.9,2.9 0 1,0 -5.8,0M342.6,117.9a2.9,2.9 0 1,0 5.8,0a2.9,2.9 0 1,0 -5.8,0M349.8,112.2a2.9,2.9 0 1,0 5.8,0a2.9,2.9 0 1,0 -5.8,0M357,104.9a2.9,2.9 0 1,0 5.8,0a2.9,2.9 0 1,0 -5.8,0M364.1,115.9a2.9,2.9 0 1,0 5.8,0a2.9,2.9 0 1,0 -5.8,0M371.3,112.3a2.9,2.9 0 1,0 5.8,0a2.9,2.9 0 1,0 -5.8,0M378.5,107a2.9,2.9 0 1,0 5.8,0a2.9,2.9 0 1,0 -5.8,0M385.6,101.8a2.9,2.9 0 1,0 5.8,0a2.9,2.9 0 1,0 -5.8,0M392.8,113.7a2.9,2.9 0 1,0 5.8,0a2.9,2.9 0 1,0 -5.8,0M400,97.2a2.9,2.9 0 1,0 5.8,0a2.9,2.9 0 1,0 -5.8,0M407.1,104a2.9,2.9 0 1,0 5.8,0a2.9,2.9 0 1,0 -5.8,0M414.3,94a2.9,2.9 0 1,0 5.8,0a2.9,2.9 0 1,0 -5.8,0M421.5,90.4a2.9,2.9 0 1,0 5.8,0a2.9,2.9 0 1,0 -5.8,0M428.7,91.1a2.9,2.9 0 1,0 5.8,0a2.9,2.9 0 1,0 -5.8,0M435.8,95a2.9,2.9 0 1,0 5.8,0a2.9,2.9 0 1,0 -5.8,0M443,73.7a2.9,2.9 0 1,0 5.8,0a2.9,2.9 0 1,0 -5.8,0M450.2,68.9a2.9,2.9 0 1,0 5.8,0a2.9,2.9 0 1,0 -5.8,0M457.3,70.1a2.9,2.9 0 1,0 5.8,0a2.9,2.9 0 1,0 -5.8,0M464.5,72a2.9,2.9 0 1,0 5.8,0a2.9,2.9 0 1,0 -5.8,0M471.7,74a2.9,2.9 0 1,0 5.8,0a2.9,2.9 0 1,0 -5.8,0M478.8,74.9a2.9,2.9 0 1,0 5.8,0a2.9,2.9 0 1,0 -5.8,0M486,80.1a2.9,2.9 0 1,0 5.8,0a2.9,2.9 0 1,0 -5.8,0M493.2,80.6a2.9,2.9 0 1,0 5.8,0a2.9,2.9 0 1,0 -5.8,0M500.4,81.3a2.9,2.9 0 1,0 5.8,0a2.9,2.9 0 1,0 -5.8,0M507.5,84.4a2.9,2.9 0 1,0 5.8,0a2.9,2.9 0 1,0 -5.8,0M514.7,86.8a2.9,2.9 0 1,0 5.8,0a2.9,2.9 0 1,0 -5.8,0M521.9,85.4a2.9,2.9 0 1,0 5.8,0a2.9,2.9 0 1,0 -5.8,0M529,86.1a2.9,2.9 0 1,0 5.8,0a2.9,2.9 0 1,0 -5.8,0M536.2,88.5a2.9,2.9 0 1,0 5.8,0a2.9,2.9 0 1,0 -5.8,0M543.4,87a2.9,2.9 0 1,0 5.8,0a2.9,2.9 0 1,0 -5.8,0M550.5,85.4a2.9,2.9 0 1,0 5.8,0a2.9,2.9 0 1,0 -5.8,0M557.7,86.8a2.9,2.9 0 1,0 5.8,0a2.9,2.9 0 1,0 -5.8,0M564.9,85.8a2.9,2.9 0 1,0 5.8,0a2.9,2.9 0 1,0 -5.8,0M572.1,84.8a2.9,2.9 0 1,0 5.8,0a2.9,2.9 0 1,0 -5.8,0M579.2,83.5a2.9,2.9 0 1,0 5.8,0a2.9,2.9 0 1,0 -5.8,0M586.4,86.8a2.9,2.9 0 1,0 5.8,0a2.9,2.9 0 1,0 -5.8,0M593.6,84.8a2.9,2.9 0 1,0 5.8,0a2.9,2.9 0 1,0 -5.8,0M600.7,79.5a2.9,2.9 0 1,0 5.8,0a2.9,2.9 0 1,0 -5.8,0M607.9,79a2.9,2.9 0 1,0 5.8,0a2.9,2.9 0 1,0 -5.8,0M615.1,78a2.9,2.9 0 1,0 5.8,0a2.9,2.9 0 1,0 -5.8,0M622.2,77a2.9,2.9 0 1,0 5.8,0a2.9,2.9 0 1,0 -5.8,0M629.4,73.4a2.9,2.9 0 1,0 5.8,0a2.9,2.9 0 1,0 -5.8,0M636.6,79.4a2.9,2.9 0 1,0 5.8,0a2.9,2.9 0 1,0 -5.8,0M643.8,71a2.9,2.9 0 1,0 5.8,0a2.9,2.9 0 1,0 -5.8,0M650.9,65.8a2.9,2.9 0 1,0 5.8,0a2.9,2.9 0 1,0 -5.8,0M658.1,66.3a2.9,2.9 0 1,0 5.8,0a2.9,2.9 0 1,0 -5.8,0M665.3,68.6a2.9,2.9 0 1,0 5.8,0a2.9,2.9 0 1,0 -5.8,0M672.4,72.9a2.9,2.9 0 1,0 5.8,0a2.9,2.9 0 1,0 -5.8,0" fill="none" stroke="#E3A52A" stroke-width="0.9"/>
<polyline points="324,117.2 331.2,111.9 338.3,115.1 345.5,105.8 352.7,100 359.9,97.8 367,104.4 374.2,101.8 381.4,94.1 388.5,95.5 395.7,100.1 402.9,88.6 410,84 417.2,79.7 424.4,68.9 431.6,82.5 438.7,76.8 445.9,62.5 453.1,52.9 460.2,63 467.4,44.6 474.6,36.2 481.7,49.1 488.9,53.9 496.1,58.2 503.2,62.2 510.4,68.2 517.6,72.5 524.8,74.9 531.9,77.7 539.1,81.3 546.3,82.4 553.4,85 560.6,87.3 567.8,87.7 575,86.8 582.1,81.5 589.3,85.8 596.5,84.3 603.6,80.5 610.8,80.3 618,82.4 625.1,78.2 632.3,74.6 639.5,80.6 646.6,75.8 653.8,72.2 661,72.2 668.2,74.6 675.3,78.2" fill="none" stroke="#6DB83A" stroke-width="1.2"/>
<path d="M321.1,117.2a2.9,2.9 0 1,0 5.8,0a2.9,2.9 0 1,0 -5.8,0M328.3,111.9a2.9,2.9 0 1,0 5.8,0a2.9,2.9 0 1,0 -5.8,0M335.4,115.1a2.9,2.9 0 1,0 5.8,0a2.9,2.9 0 1,0 -5.8,0M342.6,105.8a2.9,2.9 0 1,0 5.8,0a2.9,2.9 0 1,0 -5.8,0M349.8,100a2.9,2.9 0 1,0 5.8,0a2.9,2.9 0 1,0 -5.8,0M357,97.8a2.9,2.9 0 1,0 5.8,0a2.9,2.9 0 1,0 -5.8,0M364.1,104.4a2.9,2.9 0 1,0 5.8,0a2.9,2.9 0 1,0 -5.8,0M371.3,101.8a2.9,2.9 0 1,0 5.8,0a2.9,2.9 0 1,0 -5.8,0M378.5,94.1a2.9,2.9 0 1,0 5.8,0a2.9,2.9 0 1,0 -5.8,0M385.6,95.5a2.9,2.9 0 1,0 5.8,0a2.9,2.9 0 1,0 -5.8,0M392.8,100.1a2.9,2.9 0 1,0 5.8,0a2.9,2.9 0 1,0 -5.8,0M400,88.6a2.9,2.9 0 1,0 5.8,0a2.9,2.9 0 1,0 -5.8,0M407.1,84a2.9,2.9 0 1,0 5.8,0a2.9,2.9 0 1,0 -5.8,0M414.3,79.7a2.9,2.9 0 1,0 5.8,0a2.9,2.9 0 1,0 -5.8,0M421.5,68.9a2.9,2.9 0 1,0 5.8,0a2.9,2.9 0 1,0 -5.8,0M428.7,82.5a2.9,2.9 0 1,0 5.8,0a2.9,2.9 0 1,0 -5.8,0M435.8,76.8a2.9,2.9 0 1,0 5.8,0a2.9,2.9 0 1,0 -5.8,0M443,62.5a2.9,2.9 0 1,0 5.8,0a2.9,2.9 0 1,0 -5.8,0M450.2,52.9a2.9,2.9 0 1,0 5.8,0a2.9,2.9 0 1,0 -5.8,0M457.3,63a2.9,2.9 0 1,0 5.8,0a2.9,2.9 0 1,0 -5.8,0M464.5,44.6a2.9,2.9 0 1,0 5.8,0a2.9,2.9 0 1,0 -5.8,0M471.7,36.2a2.9,2.9 0 1,0 5.8,0a2.9,2.9 0 1,0 -5.8,0M478.8,49.1a2.9,2.9 0 1,0 5.8,0a2.9,2.9 0 1,0 -5.8,0M486,53.9a2.9,2.9 0 1,0 5.8,0a2.9,2.9 0 1,0 -5.8,0M493.2,58.2a2.9,2.9 0 1,0 5.8,0a2.9,2.9 0 1,0 -5.8,0M500.4,62.2a2.9,2.9 0 1,0 5.8,0a2.9,2.9 0 1,0 -5.8,0M507.5,68.2a2.9,2.9 0 1,0 5.8,0a2.9,2.9 0 1,0 -5.8,0M514.7,72.5a2.9,2.9 0 1,0 5.8,0a2.9,2.9 0 1,0 -5.8,0M521.9,74.9a2.9,2.9 0 1,0 5.8,0a2.9,2.9 0 1,0 -5.8,0M529,77.7a2.9,2.9 0 1,0 5.8,0a2.9,2.9 0 1,0 -5.8,0M536.2,81.3a2.9,2.9 0 1,0 5.8,0a2.9,2.9 0 1,0 -5.8,0M543.4,82.4a2.9,2.9 0 1,0 5.8,0a2.9,2.9 0 1,0 -5.8,0M550.5,85a2.9,2.9 0 1,0 5.8,0a2.9,2.9 0 1,0 -5.8,0M557.7,87.3a2.9,2.9 0 1,0 5.8,0a2.9,2.9 0 1,0 -5.8,0M564.9,87.7a2.9,2.9 0 1,0 5.8,0a2.9,2.9 0 1,0 -5.8,0M572.1,86.8a2.9,2.9 0 1,0 5.8,0a2.9,2.9 0 1,0 -5.8,0M579.2,81.5a2.9,2.9 0 1,0 5.8,0a2.9,2.9 0 1,0 -5.8,0M586.4,85.8a2.9,2.9 0 1,0 5.8,0a2.9,2.9 0 1,0 -5.8,0M593.6,84.3a2.9,2.9 0 1,0 5.8,0a2.9,2.9 0 1,0 -5.8,0M600.7,80.5a2.9,2.9 0 1,0 5.8,0a2.9,2.9 0 1,0 -5.8,0M607.9,80.3a2.9,2.9 0 1,0 5.8,0a2.9,2.9 0 1,0 -5.8,0M615.1,82.4a2.9,2.9 0 1,0 5.8,0a2.9,2.9 0 1,0 -5.8,0M622.2,78.2a2.9,2.9 0 1,0 5.8,0a2.9,2.9 0 1,0 -5.8,0M629.4,74.6a2.9,2.9 0 1,0 5.8,0a2.9,2.9 0 1,0 -5.8,0M636.6,80.6a2.9,2.9 0 1,0 5.8,0a2.9,2.9 0 1,0 -5.8,0M643.8,75.8a2.9,2.9 0 1,0 5.8,0a2.9,2.9 0 1,0 -5.8,0M650.9,72.2a2.9,2.9 0 1,0 5.8,0a2.9,2.9 0 1,0 -5.8,0M658.1,72.2a2.9,2.9 0 1,0 5.8,0a2.9,2.9 0 1,0 -5.8,0M665.3,74.6a2.9,2.9 0 1,0 5.8,0a2.9,2.9 0 1,0 -5.8,0M672.4,78.2a2.9,2.9 0 1,0 5.8,0a2.9,2.9 0 1,0 -5.8,0" fill="none" stroke="#6DB83A" stroke-width="0.9"/>
<path d="M324,139 L331.2,132 L338.3,130.5 L345.5,121 L352.7,114.5 L359.9,114 L367,115.5 L374.2,120 L381.4,115 L388.5,118 L395.7,108 L402.9,94 L410,97 L417.2,87.5 L424.4,81.5 L431.6,86 L438.7,94 L445.9,68 L453.1,64 L460.2,65.3 L467.4,64.2 L474.6,64.5 L481.7,67.7 L488.9,74 L496.1,76.5 L503.2,78 L510.4,82.5 L517.6,84 L524.8,84 L531.9,84 L539.1,88.5 L546.3,85.5 L553.4,82.5 L560.6,84.5 L567.8,83.5 L575,82.5 L582.1,80.5 L589.3,82.5 L596.5,79.5 L603.6,74 L610.8,74.5 L618,74 L625.1,73.5 L632.3,68.5 L639.5,74.5 L646.6,68.5 L653.8,62.5 L661,62.5 L668.2,65.5 L675.3,68 L675.3,75 L668.2,72.5 L661,69.5 L653.8,69.5 L646.6,75.5 L639.5,81.5 L632.3,75.5 L625.1,80.5 L618,81 L610.8,81.5 L603.6,81 L596.5,86.5 L589.3,89.5 L582.1,87.5 L575,89.5 L567.8,90.5 L560.6,91.5 L553.4,90 L546.3,93 L539.1,94.4 L531.9,91.5 L524.8,91 L517.6,91 L510.4,90.1 L503.2,86.5 L496.1,85 L488.9,83.7 L481.7,78 L474.6,75 L467.4,74 L460.2,73 L453.1,71 L445.9,76.5 L438.7,103 L431.6,94 L424.4,89.5 L417.2,95 L410,104 L402.9,118 L395.7,131.6 L388.5,138.8 L381.4,128 L374.2,124.4 L367,125 L359.9,126.8 L352.7,127.5 L345.5,129.2 L338.3,138 L331.2,141.1 L324,148.3Z" fill="#9050B0" fill-opacity="0.3"/>
<path d="M324,108.9 L331.2,100.6 L338.3,106.5 L345.5,83 L352.7,84 L359.9,79 L367,78 L374.2,87.4 L381.4,81.5 L388.5,81.5 L395.7,80 L402.9,74.3 L410,71.3 L417.2,68 L424.4,60.6 L431.6,71.3 L438.7,66.5 L445.9,55.8 L453.1,40.3 L460.2,51 L467.4,37.9 L474.6,31.9 L481.7,42 L488.9,49 L496.1,54 L503.2,58 L510.4,64 L517.6,68.5 L524.8,71 L531.9,74 L539.1,77.5 L546.3,78.5 L553.4,81 L560.6,83.5 L567.8,84 L575,83 L582.1,78 L589.3,82 L596.5,80.5 L603.6,76.5 L610.8,76.5 L618,78.5 L625.1,74 L632.3,70.5 L639.5,76.5 L646.6,71.5 L653.8,68 L661,68 L668.2,70.5 L675.3,74 L675.3,83 L668.2,79 L661,76.5 L653.8,76.5 L646.6,80 L639.5,84.5 L632.3,79 L625.1,82.5 L618,86.5 L610.8,84.5 L603.6,84.5 L596.5,88 L589.3,89.5 L582.1,85.5 L575,90.5 L567.8,91.5 L560.6,91 L553.4,89 L546.3,86.5 L539.1,85 L531.9,81.5 L524.8,79 L517.6,76.5 L510.4,72.5 L503.2,66.5 L496.1,63 L488.9,60 L481.7,57.4 L474.6,48.6 L467.4,55.8 L460.2,71.3 L453.1,67.7 L445.9,76.1 L438.7,86.8 L431.6,91.6 L424.4,89.2 L417.2,90 L410,91.6 L402.9,97 L395.7,110 L388.5,102 L381.4,106 L374.2,111 L367,114 L359.9,105 L352.7,112 L345.5,118 L338.3,124 L331.2,123 L324,127Z" fill="#7FE050" fill-opacity="0.35"/>
<path d="M324,117 L331.2,112 L338.3,115 L345.5,106 L352.7,100 L359.9,98 L367,104 L374.2,102 L381.4,94 L388.5,95.5 L395.7,100 L402.9,88.6 L410,95 L417.2,88 L424.4,84 L431.6,85 L438.7,88 L445.9,59.4 L453.1,60 L460.2,62 L467.4,62 L474.6,60 L481.7,59.8 L488.9,62.2 L496.1,64.5 L503.2,66.5 L510.4,70 L517.6,76 L524.8,79 L531.9,81.3 L539.1,83 L546.3,82 L553.4,81 L560.6,82 L567.8,81.5 L575,80 L582.1,79 L589.3,81 L596.5,79 L603.6,73.4 L610.8,74 L618,73 L625.1,72 L632.3,68.5 L639.5,74 L646.6,66 L653.8,61 L661,61.5 L668.2,63.5 L675.3,67.5 L675.3,77.5 L668.2,73.5 L661,71.5 L653.8,71 L646.6,76 L639.5,84 L632.3,78 L625.1,82 L618,82.5 L610.8,83.5 L603.6,84 L596.5,89 L589.3,91 L582.1,88 L575,89 L567.8,90 L560.6,91 L553.4,89.5 L546.3,91 L539.1,90.9 L531.9,90 L524.8,89 L517.6,87.3 L510.4,83.7 L503.2,83 L496.1,81.3 L488.9,80 L481.7,77.7 L474.6,91.6 L467.4,79.7 L460.2,90.4 L453.1,77.3 L445.9,84.4 L438.7,103.5 L431.6,102.3 L424.4,98.8 L417.2,100 L410,114.3 L402.9,108.3 L395.7,123.2 L388.5,124.4 L381.4,129.2 L374.2,140 L367,125.6 L359.9,126.8 L352.7,127 L345.5,129.2 L338.3,142.3 L331.2,134 L324,131.6Z" fill="#E0EE50" fill-opacity="0.35"/>
</g>
<path d="M446.3,23.1 L462,23.1 L454.2,36.7Z" fill="#1010F0"/>
<path d="M468.5,19.1 L484,19.1 L476.3,32Z" fill="#1010F0"/>
<line x1="340" y1="50.5" x2="340" y2="27" stroke="#2828E0" stroke-width="1.3"/>
<path d="M340,21.5 L337.3,28.5 L342.7,28.5Z" fill="#2828E0"/>
<line x1="333.6" y1="51" x2="333.6" y2="73" stroke="#E02828" stroke-width="1.3"/>
<path d="M333.6,79 L330.9,72 L336.3,72Z" fill="#E02828"/>
<text x="344.8" y="42.7" font-size="11.5" font-style="italic" fill="#2828E0">Viscosity dominant</text>
<text x="336.6" y="64.6" font-size="11.5" font-style="italic" fill="#E02828">Elasticity dominant</text>
<rect x="623.7" y="118.5" width="49.9" height="43" fill="#fff" stroke="#262626" stroke-width="1.1"/>
<line x1="626.3" y1="126.4" x2="650.6" y2="126.4" stroke="#8B3AA8" stroke-width="1.2"/>
<circle cx="638.1" cy="126.4" r="2.6" fill="none" stroke="#8B3AA8" stroke-width="0.9"/>
<text x="652.6" y="130.4" font-size="11.2" fill="#000">KD</text>
<line x1="626.3" y1="140.5" x2="650.6" y2="140.5" stroke="#6DB83A" stroke-width="1.2"/>
<circle cx="638.1" cy="140.5" r="2.6" fill="none" stroke="#6DB83A" stroke-width="0.9"/>
<text x="652.6" y="144.5" font-size="11.2" fill="#000">WT</text>
<line x1="626.3" y1="154" x2="650.6" y2="154" stroke="#E3A52A" stroke-width="1.2"/>
<circle cx="638.1" cy="154" r="2.6" fill="none" stroke="#E3A52A" stroke-width="0.9"/>
<text x="652.6" y="158" font-size="11.2" fill="#000">OE</text>
<rect x="326.6" y="334.4" width="13" height="13.8" fill="none" stroke="#000" stroke-width="1.2"/>
<line x1="326.6" y1="338.4" x2="339.6" y2="338.4" stroke="#000" stroke-width="1.2"/>
<line x1="333.1" y1="334.4" x2="333.1" y2="331.6" stroke="#000" stroke-width="1.2" stroke-dasharray="6.5 3" stroke-dashoffset="6.9"/>
<line x1="330.4" y1="331.6" x2="335.9" y2="331.6" stroke="#000" stroke-width="1.2"/>
<line x1="333.1" y1="348.2" x2="333.1" y2="354.9" stroke="#000" stroke-width="1.2" stroke-dasharray="6.5 3" stroke-dashoffset="6.9"/>
<line x1="330.4" y1="354.9" x2="335.9" y2="354.9" stroke="#000" stroke-width="1.2"/>
<rect x="353.9" y="290.4" width="12.9" height="31.9" fill="none" stroke="#000" stroke-width="1.2"/>
<line x1="353.9" y1="305.8" x2="366.8" y2="305.8" stroke="#000" stroke-width="1.2"/>
<line x1="360.3" y1="322.3" x2="360.3" y2="338.4" stroke="#000" stroke-width="1.2" stroke-dasharray="6.5 3" stroke-dashoffset="6.9"/>
<line x1="357.6" y1="338.4" x2="363.1" y2="338.4" stroke="#000" stroke-width="1.2"/>
<rect x="381.6" y="316.5" width="13.1" height="34.1" fill="none" stroke="#000" stroke-width="1.2"/>
<line x1="381.6" y1="342.5" x2="394.7" y2="342.5" stroke="#000" stroke-width="1.2"/>
<line x1="388.1" y1="316.5" x2="388.1" y2="300.4" stroke="#000" stroke-width="1.2" stroke-dasharray="6.5 3" stroke-dashoffset="6.9"/>
<line x1="385.4" y1="300.4" x2="390.9" y2="300.4" stroke="#000" stroke-width="1.2"/>
<line x1="388.1" y1="350.6" x2="388.1" y2="354.2" stroke="#000" stroke-width="1.2" stroke-dasharray="6.5 3" stroke-dashoffset="6.9"/>
<line x1="385.4" y1="354.2" x2="390.9" y2="354.2" stroke="#000" stroke-width="1.2"/>
<circle cx="337.7" cy="303.4" r="3.8" fill="#8B3FB5" fill-opacity="0.6"/>
<circle cx="327.9" cy="331.2" r="3.8" fill="#8B3FB5" fill-opacity="0.6"/>
<circle cx="328.8" cy="335.7" r="3.8" fill="#8B3FB5" fill-opacity="0.6"/>
<circle cx="335.9" cy="333.9" r="3.8" fill="#8B3FB5" fill-opacity="0.6"/>
<circle cx="337.7" cy="336.6" r="3.8" fill="#8B3FB5" fill-opacity="0.6"/>
<circle cx="331.4" cy="340.2" r="3.8" fill="#8B3FB5" fill-opacity="0.6"/>
<circle cx="328.8" cy="343.8" r="3.8" fill="#8B3FB5" fill-opacity="0.6"/>
<circle cx="334.1" cy="345.6" r="3.8" fill="#8B3FB5" fill-opacity="0.6"/>
<circle cx="329.6" cy="349.1" r="3.8" fill="#8B3FB5" fill-opacity="0.6"/>
<circle cx="330.5" cy="351.8" r="3.8" fill="#8B3FB5" fill-opacity="0.6"/>
<circle cx="328.8" cy="355.4" r="3.8" fill="#8B3FB5" fill-opacity="0.6"/>
<circle cx="327" cy="333" r="3.8" fill="#8B3FB5" fill-opacity="0.6"/>
<circle cx="339.5" cy="337.5" r="3.8" fill="#8B3FB5" fill-opacity="0.6"/>
<circle cx="332" cy="331" r="3.8" fill="#8B3FB5" fill-opacity="0.6"/>
<circle cx="357.4" cy="249.2" r="3.8" fill="#8CCB5E" fill-opacity="0.6"/>
<circle cx="364.6" cy="261.7" r="3.8" fill="#8CCB5E" fill-opacity="0.6"/>
<circle cx="361" cy="265.9" r="3.8" fill="#8CCB5E" fill-opacity="0.6"/>
<circle cx="364.2" cy="289.5" r="3.8" fill="#8CCB5E" fill-opacity="0.6"/>
<circle cx="357.4" cy="294" r="3.8" fill="#8CCB5E" fill-opacity="0.6"/>
<circle cx="365.5" cy="294.9" r="3.8" fill="#8CCB5E" fill-opacity="0.6"/>
<circle cx="359.2" cy="303.4" r="3.8" fill="#8CCB5E" fill-opacity="0.6"/>
<circle cx="361.9" cy="307.9" r="3.8" fill="#8CCB5E" fill-opacity="0.6"/>
<circle cx="362.8" cy="317.8" r="3.8" fill="#8CCB5E" fill-opacity="0.6"/>
<circle cx="355.6" cy="322.3" r="3.8" fill="#8CCB5E" fill-opacity="0.6"/>
<circle cx="361.9" cy="323.2" r="3.8" fill="#8CCB5E" fill-opacity="0.6"/>
<circle cx="359.2" cy="333.9" r="3.8" fill="#8CCB5E" fill-opacity="0.6"/>
<circle cx="362.8" cy="337.5" r="3.8" fill="#8CCB5E" fill-opacity="0.6"/>
<circle cx="392.4" cy="283.2" r="3.8" fill="#E6BE50" fill-opacity="0.6"/>
<circle cx="392.4" cy="296.7" r="3.8" fill="#E6BE50" fill-opacity="0.6"/>
<circle cx="387.9" cy="299.9" r="3.8" fill="#E6BE50" fill-opacity="0.6"/>
<circle cx="385.2" cy="316" r="3.8" fill="#E6BE50" fill-opacity="0.6"/>
<circle cx="391.5" cy="318.7" r="3.8" fill="#E6BE50" fill-opacity="0.6"/>
<circle cx="390.6" cy="334.8" r="3.8" fill="#E6BE50" fill-opacity="0.6"/>
<circle cx="387" cy="342" r="3.8" fill="#E6BE50" fill-opacity="0.6"/>
<circle cx="382.5" cy="347.3" r="3.8" fill="#E6BE50" fill-opacity="0.6"/>
<circle cx="388.8" cy="347.3" r="3.8" fill="#E6BE50" fill-opacity="0.6"/>
<circle cx="385.2" cy="351.8" r="3.8" fill="#E6BE50" fill-opacity="0.6"/>
<circle cx="391.5" cy="351.8" r="3.8" fill="#E6BE50" fill-opacity="0.6"/>
<circle cx="384.3" cy="354.5" r="3.8" fill="#E6BE50" fill-opacity="0.6"/>
<circle cx="388.8" cy="353.6" r="3.8" fill="#E6BE50" fill-opacity="0.6"/>
<text x="323.9" y="297.3" font-size="19" letter-spacing="1.6" fill="#000" stroke="#000" stroke-width="0.45">**</text>
<text x="388" y="270.2" font-size="19" text-anchor="middle" fill="#000" stroke="#000" stroke-width="0.45">*</text>
<rect x="468" y="325.9" width="11.7" height="17.9" fill="none" stroke="#000" stroke-width="1.2"/>
<line x1="468" y1="333.9" x2="479.7" y2="333.9" stroke="#000" stroke-width="1.2"/>
<line x1="473.9" y1="325.9" x2="473.9" y2="312.5" stroke="#000" stroke-width="1.2" stroke-dasharray="6.5 3" stroke-dashoffset="6.9"/>
<line x1="471.1" y1="312.5" x2="476.6" y2="312.5" stroke="#000" stroke-width="1.2"/>
<line x1="473.9" y1="343.8" x2="473.9" y2="367.3" stroke="#000" stroke-width="1.2" stroke-dasharray="6.5 3" stroke-dashoffset="6.9"/>
<line x1="471.1" y1="367.3" x2="476.6" y2="367.3" stroke="#000" stroke-width="1.2"/>
<rect x="493.5" y="269.7" width="12.2" height="28.3" fill="none" stroke="#000" stroke-width="1.2"/>
<line x1="493.5" y1="281.5" x2="505.7" y2="281.5" stroke="#000" stroke-width="1.2"/>
<line x1="499.6" y1="269.7" x2="499.6" y2="266.3" stroke="#000" stroke-width="1.2" stroke-dasharray="6.5 3" stroke-dashoffset="6.9"/>
<line x1="496.9" y1="266.3" x2="502.4" y2="266.3" stroke="#000" stroke-width="1.2"/>
<line x1="499.6" y1="298" x2="499.6" y2="329.7" stroke="#000" stroke-width="1.2" stroke-dasharray="6.5 3" stroke-dashoffset="6.9"/>
<line x1="496.9" y1="329.7" x2="502.4" y2="329.7" stroke="#000" stroke-width="1.2"/>
<rect x="519.2" y="301.5" width="12.4" height="40" fill="none" stroke="#000" stroke-width="1.2"/>
<line x1="519.2" y1="340" x2="531.6" y2="340" stroke="#000" stroke-width="1.2"/>
<line x1="525.4" y1="301.5" x2="525.4" y2="289.7" stroke="#000" stroke-width="1.2" stroke-dasharray="6.5 3" stroke-dashoffset="6.9"/>
<line x1="522.6" y1="289.7" x2="528.1" y2="289.7" stroke="#000" stroke-width="1.2"/>
<line x1="525.4" y1="341.5" x2="525.4" y2="363.5" stroke="#000" stroke-width="1.2" stroke-dasharray="6.5 3" stroke-dashoffset="6.9"/>
<line x1="522.6" y1="363.5" x2="528.1" y2="363.5" stroke="#000" stroke-width="1.2"/>
<circle cx="474.3" cy="311.4" r="3.8" fill="#8B3FB5" fill-opacity="0.6"/>
<circle cx="476.8" cy="320.2" r="3.8" fill="#8B3FB5" fill-opacity="0.6"/>
<circle cx="471.5" cy="325.3" r="3.8" fill="#8B3FB5" fill-opacity="0.6"/>
<circle cx="475.3" cy="329.1" r="3.8" fill="#8B3FB5" fill-opacity="0.6"/>
<circle cx="479.1" cy="337.7" r="3.8" fill="#8B3FB5" fill-opacity="0.6"/>
<circle cx="473.4" cy="342.5" r="3.8" fill="#8B3FB5" fill-opacity="0.6"/>
<circle cx="478.1" cy="343.4" r="3.8" fill="#8B3FB5" fill-opacity="0.6"/>
<circle cx="469.5" cy="357.7" r="3.8" fill="#8B3FB5" fill-opacity="0.6"/>
<circle cx="478.1" cy="362.1" r="3.8" fill="#8B3FB5" fill-opacity="0.6"/>
<circle cx="478.1" cy="367.3" r="3.8" fill="#8B3FB5" fill-opacity="0.6"/>
<circle cx="471.5" cy="345.3" r="3.8" fill="#8B3FB5" fill-opacity="0.6"/>
<circle cx="474" cy="333" r="3.8" fill="#8B3FB5" fill-opacity="0.6"/>
<circle cx="498.2" cy="227.3" r="3.8" fill="#8CCB5E" fill-opacity="0.6"/>
<circle cx="503.5" cy="232.5" r="3.8" fill="#8CCB5E" fill-opacity="0.6"/>
<circle cx="495.3" cy="265.5" r="3.8" fill="#8CCB5E" fill-opacity="0.6"/>
<circle cx="503.9" cy="268.8" r="3.8" fill="#8CCB5E" fill-opacity="0.6"/>
<circle cx="499.1" cy="275.4" r="3.8" fill="#8CCB5E" fill-opacity="0.6"/>
<circle cx="501" cy="284" r="3.8" fill="#8CCB5E" fill-opacity="0.6"/>
<circle cx="503.5" cy="292.6" r="3.8" fill="#8CCB5E" fill-opacity="0.6"/>
<circle cx="497.2" cy="296.4" r="3.8" fill="#8CCB5E" fill-opacity="0.6"/>
<circle cx="499.1" cy="299.3" r="3.8" fill="#8CCB5E" fill-opacity="0.6"/>
<circle cx="501.6" cy="313.9" r="3.8" fill="#8CCB5E" fill-opacity="0.6"/>
<circle cx="495.3" cy="321.5" r="3.8" fill="#8CCB5E" fill-opacity="0.6"/>
<circle cx="502.4" cy="329.7" r="3.8" fill="#8CCB5E" fill-opacity="0.6"/>
<circle cx="523.9" cy="242.6" r="3.8" fill="#E6BE50" fill-opacity="0.6"/>
<circle cx="529.1" cy="266.3" r="3.8" fill="#E6BE50" fill-opacity="0.6"/>
<circle cx="523" cy="289.7" r="3.8" fill="#E6BE50" fill-opacity="0.6"/>
<circle cx="525.8" cy="301.5" r="3.8" fill="#E6BE50" fill-opacity="0.6"/>
<circle cx="528.7" cy="318.2" r="3.8" fill="#E6BE50" fill-opacity="0.6"/>
<circle cx="526.8" cy="330.1" r="3.8" fill="#E6BE50" fill-opacity="0.6"/>
<circle cx="523.9" cy="337.7" r="3.8" fill="#E6BE50" fill-opacity="0.6"/>
<circle cx="527.7" cy="341.5" r="3.8" fill="#E6BE50" fill-opacity="0.6"/>
<circle cx="529.7" cy="343.4" r="3.8" fill="#E6BE50" fill-opacity="0.6"/>
<circle cx="524.9" cy="357.7" r="3.8" fill="#E6BE50" fill-opacity="0.6"/>
<circle cx="527.7" cy="364" r="3.8" fill="#E6BE50" fill-opacity="0.6"/>
<text x="465.7" y="296.1" font-size="19" letter-spacing="1.6" fill="#000" stroke="#000" stroke-width="0.45">**</text>
<text x="524.7" y="267.7" font-size="19" text-anchor="middle" fill="#000" stroke="#000" stroke-width="0.45">*</text>
<rect x="604.4" y="307.4" width="13.2" height="23.3" fill="none" stroke="#000" stroke-width="1.2"/>
<line x1="604.4" y1="310.8" x2="617.6" y2="310.8" stroke="#000" stroke-width="1.2"/>
<line x1="611" y1="307.4" x2="611" y2="296" stroke="#000" stroke-width="1.2" stroke-dasharray="6.5 3" stroke-dashoffset="6.9"/>
<line x1="608.2" y1="296" x2="613.8" y2="296" stroke="#000" stroke-width="1.2"/>
<line x1="611" y1="330.7" x2="611" y2="372.1" stroke="#000" stroke-width="1.2" stroke-dasharray="6.5 3" stroke-dashoffset="6.9"/>
<line x1="608.2" y1="372.1" x2="613.8" y2="372.1" stroke="#000" stroke-width="1.2"/>
<rect x="632.3" y="261.3" width="12.4" height="30.9" fill="none" stroke="#000" stroke-width="1.2"/>
<line x1="632.3" y1="281.3" x2="644.7" y2="281.3" stroke="#000" stroke-width="1.2"/>
<line x1="638.5" y1="261.3" x2="638.5" y2="250.2" stroke="#000" stroke-width="1.2" stroke-dasharray="6.5 3" stroke-dashoffset="6.9"/>
<line x1="635.8" y1="250.2" x2="641.2" y2="250.2" stroke="#000" stroke-width="1.2"/>
<line x1="638.5" y1="292.2" x2="638.5" y2="333.3" stroke="#000" stroke-width="1.2" stroke-dasharray="6.5 3" stroke-dashoffset="6.9"/>
<line x1="635.8" y1="333.3" x2="641.2" y2="333.3" stroke="#000" stroke-width="1.2"/>
<rect x="659.8" y="271.2" width="13" height="40.2" fill="none" stroke="#000" stroke-width="1.2"/>
<line x1="659.8" y1="285.1" x2="672.8" y2="285.1" stroke="#000" stroke-width="1.2"/>
<line x1="666.3" y1="271.2" x2="666.3" y2="257.8" stroke="#000" stroke-width="1.2" stroke-dasharray="6.5 3" stroke-dashoffset="6.9"/>
<line x1="663.5" y1="257.8" x2="669" y2="257.8" stroke="#000" stroke-width="1.2"/>
<line x1="666.3" y1="311.4" x2="666.3" y2="319.2" stroke="#000" stroke-width="1.2" stroke-dasharray="6.5 3" stroke-dashoffset="6.9"/>
<line x1="663.5" y1="319.2" x2="669" y2="319.2" stroke="#000" stroke-width="1.2"/>
<circle cx="607.5" cy="290.8" r="3.8" fill="#8B3FB5" fill-opacity="0.6"/>
<circle cx="616.1" cy="296" r="3.8" fill="#8B3FB5" fill-opacity="0.6"/>
<circle cx="607.5" cy="302.9" r="3.8" fill="#8B3FB5" fill-opacity="0.6"/>
<circle cx="606.8" cy="302.9" r="3.8" fill="#8B3FB5" fill-opacity="0.6"/>
<circle cx="608.7" cy="308.8" r="3.8" fill="#8B3FB5" fill-opacity="0.6"/>
<circle cx="614.6" cy="314.7" r="3.8" fill="#8B3FB5" fill-opacity="0.6"/>
<circle cx="607.8" cy="326.4" r="3.8" fill="#8B3FB5" fill-opacity="0.6"/>
<circle cx="615.6" cy="329.4" r="3.8" fill="#8B3FB5" fill-opacity="0.6"/>
<circle cx="610.7" cy="331.3" r="3.8" fill="#8B3FB5" fill-opacity="0.6"/>
<circle cx="613.6" cy="336.2" r="3.8" fill="#8B3FB5" fill-opacity="0.6"/>
<circle cx="616.6" cy="359.1" r="3.8" fill="#8B3FB5" fill-opacity="0.6"/>
<circle cx="614.6" cy="371.5" r="3.8" fill="#8B3FB5" fill-opacity="0.6"/>
<circle cx="637.5" cy="235.5" r="3.8" fill="#8CCB5E" fill-opacity="0.6"/>
<circle cx="643.2" cy="250.2" r="3.8" fill="#8CCB5E" fill-opacity="0.6"/>
<circle cx="633.3" cy="261.3" r="3.8" fill="#8CCB5E" fill-opacity="0.6"/>
<circle cx="640.9" cy="264.1" r="3.8" fill="#8CCB5E" fill-opacity="0.6"/>
<circle cx="640" cy="276.1" r="3.8" fill="#8CCB5E" fill-opacity="0.6"/>
<circle cx="638" cy="282.3" r="3.8" fill="#8CCB5E" fill-opacity="0.6"/>
<circle cx="641.3" cy="283.2" r="3.8" fill="#8CCB5E" fill-opacity="0.6"/>
<circle cx="643.8" cy="293.7" r="3.8" fill="#8CCB5E" fill-opacity="0.6"/>
<circle cx="638" cy="291.8" r="3.8" fill="#8CCB5E" fill-opacity="0.6"/>
<circle cx="634.6" cy="308.8" r="3.8" fill="#8CCB5E" fill-opacity="0.6"/>
<circle cx="643.6" cy="333.7" r="3.8" fill="#8CCB5E" fill-opacity="0.6"/>
<circle cx="670.5" cy="257.8" r="3.8" fill="#E6BE50" fill-opacity="0.6"/>
<circle cx="671.4" cy="260.9" r="3.8" fill="#E6BE50" fill-opacity="0.6"/>
<circle cx="664.7" cy="270.8" r="3.8" fill="#E6BE50" fill-opacity="0.6"/>
<circle cx="665.7" cy="282.3" r="3.8" fill="#E6BE50" fill-opacity="0.6"/>
<circle cx="671.8" cy="282.3" r="3.8" fill="#E6BE50" fill-opacity="0.6"/>
<circle cx="671.4" cy="297.5" r="3.8" fill="#E6BE50" fill-opacity="0.6"/>
<circle cx="663.6" cy="308.8" r="3.8" fill="#E6BE50" fill-opacity="0.6"/>
<circle cx="669.4" cy="314.7" r="3.8" fill="#E6BE50" fill-opacity="0.6"/>
<circle cx="666.5" cy="319.6" r="3.8" fill="#E6BE50" fill-opacity="0.6"/>
<circle cx="670.4" cy="300" r="3.8" fill="#E6BE50" fill-opacity="0.6"/>
<text x="602.7" y="282.2" font-size="19" letter-spacing="1.6" fill="#000" stroke="#000" stroke-width="0.45">**</text>
<path d="M43.5,36V168H260.3V36" fill="none" stroke="#262626" stroke-width="1.3"/>
<path d="M42.9,35.6H260.9" stroke="#77AC30" stroke-width="1.8"/>
<text x="46.3" y="187.8" font-size="12.2" text-anchor="middle" fill="#262626">10<tspan dx="0.3" dy="-6.6" font-size="9">-2</tspan></text>
<text x="46.3" y="29.2" font-size="12.2" text-anchor="middle" fill="#77AC30">10<tspan dx="0.3" dy="-6.6" font-size="9">2</tspan></text>
<text x="106.8" y="187.8" font-size="12.2" text-anchor="middle" fill="#262626">10<tspan dx="0.3" dy="-6.6" font-size="9">0</tspan></text>
<text x="106.8" y="29.2" font-size="12.2" text-anchor="middle" fill="#77AC30">10<tspan dx="0.3" dy="-6.6" font-size="9">0</tspan></text>
<text x="167.3" y="187.8" font-size="12.2" text-anchor="middle" fill="#262626">10<tspan dx="0.3" dy="-6.6" font-size="9">2</tspan></text>
<text x="167.3" y="29.2" font-size="12.2" text-anchor="middle" fill="#77AC30">10<tspan dx="0.3" dy="-6.6" font-size="9">-2</tspan></text>
<text x="227.8" y="187.8" font-size="12.2" text-anchor="middle" fill="#262626">10<tspan dx="0.3" dy="-6.6" font-size="9">4</tspan></text>
<text x="227.8" y="29.2" font-size="12.2" text-anchor="middle" fill="#77AC30">10<tspan dx="0.3" dy="-6.6" font-size="9">-4</tspan></text>
<text x="39.1" y="175.2" font-size="12.2" text-anchor="end" fill="#262626">10<tspan dx="0.3" dy="-6.6" font-size="9">-4</tspan></text>
<text x="39.1" y="131.2" font-size="12.2" text-anchor="end" fill="#262626">10<tspan dx="0.3" dy="-6.6" font-size="9">-2</tspan></text>
<text x="39.1" y="87.2" font-size="12.2" text-anchor="end" fill="#262626">10<tspan dx="0.3" dy="-6.6" font-size="9">0</tspan></text>
<text x="39.1" y="43.2" font-size="12.2" text-anchor="end" fill="#262626">10<tspan dx="0.3" dy="-6.6" font-size="9">2</tspan></text>
<text x="151.7" y="10" font-size="12.2" text-anchor="middle" fill="#77AC30" textLength="74" lengthAdjust="spacingAndGlyphs">Lag time <tspan font-style="italic">τ</tspan> [s]</text>
<text x="151.7" y="202.6" font-size="12" text-anchor="middle" fill="#262626" textLength="106.2" lengthAdjust="spacingAndGlyphs">Frequency <tspan font-style="italic">ω</tspan> [rad/s]</text>
<text transform="translate(12.4,102.15) rotate(-90)" x="0" y="0" font-size="12" text-anchor="middle" fill="#262626" textLength="107.2" lengthAdjust="spacingAndGlyphs">Stiffness <tspan font-style="italic">κ</tspan>* [pN/nm]</text>
<text x="16.4" y="26.8" font-size="19" text-anchor="start" fill="#000" font-weight="bold" >a</text>
<text x="60" y="55.5" font-size="13.2" text-anchor="start" fill="#4d4d4d" font-weight="bold" >KD</text>
<path d="M43.5,249V381H260.3V249" fill="none" stroke="#262626" stroke-width="1.3"/>
<path d="M42.9,248.6H260.9" stroke="#77AC30" stroke-width="1.8"/>
<text x="46.3" y="400.8" font-size="12.2" text-anchor="middle" fill="#262626">10<tspan dx="0.3" dy="-6.6" font-size="9">-2</tspan></text>
<text x="46.3" y="242.2" font-size="12.2" text-anchor="middle" fill="#77AC30">10<tspan dx="0.3" dy="-6.6" font-size="9">2</tspan></text>
<text x="106.8" y="400.8" font-size="12.2" text-anchor="middle" fill="#262626">10<tspan dx="0.3" dy="-6.6" font-size="9">0</tspan></text>
<text x="106.8" y="242.2" font-size="12.2" text-anchor="middle" fill="#77AC30">10<tspan dx="0.3" dy="-6.6" font-size="9">0</tspan></text>
<text x="167.3" y="400.8" font-size="12.2" text-anchor="middle" fill="#262626">10<tspan dx="0.3" dy="-6.6" font-size="9">2</tspan></text>
<text x="167.3" y="242.2" font-size="12.2" text-anchor="middle" fill="#77AC30">10<tspan dx="0.3" dy="-6.6" font-size="9">-2</tspan></text>
<text x="227.8" y="400.8" font-size="12.2" text-anchor="middle" fill="#262626">10<tspan dx="0.3" dy="-6.6" font-size="9">4</tspan></text>
<text x="227.8" y="242.2" font-size="12.2" text-anchor="middle" fill="#77AC30">10<tspan dx="0.3" dy="-6.6" font-size="9">-4</tspan></text>
<text x="39.1" y="388.2" font-size="12.2" text-anchor="end" fill="#262626">10<tspan dx="0.3" dy="-6.6" font-size="9">-4</tspan></text>
<text x="39.1" y="344.2" font-size="12.2" text-anchor="end" fill="#262626">10<tspan dx="0.3" dy="-6.6" font-size="9">-2</tspan></text>
<text x="39.1" y="300.2" font-size="12.2" text-anchor="end" fill="#262626">10<tspan dx="0.3" dy="-6.6" font-size="9">0</tspan></text>
<text x="39.1" y="256.2" font-size="12.2" text-anchor="end" fill="#262626">10<tspan dx="0.3" dy="-6.6" font-size="9">2</tspan></text>
<text x="151" y="223" font-size="12.2" text-anchor="middle" fill="#77AC30" textLength="74" lengthAdjust="spacingAndGlyphs">Lag time <tspan font-style="italic">τ</tspan> [s]</text>
<text x="151" y="415.6" font-size="12" text-anchor="middle" fill="#262626" textLength="106.2" lengthAdjust="spacingAndGlyphs">Frequency <tspan font-style="italic">ω</tspan> [rad/s]</text>
<text transform="translate(12.4,315) rotate(-90)" x="0" y="0" font-size="12" text-anchor="middle" fill="#262626" textLength="107.2" lengthAdjust="spacingAndGlyphs">Stiffness <tspan font-style="italic">κ</tspan>* [pN/nm]</text>
<text x="14.9" y="238.6" font-size="19" text-anchor="start" fill="#000" font-weight="bold" >b</text>
<text x="60" y="268.5" font-size="13.2" text-anchor="start" fill="#4d4d4d" font-weight="bold" >OE</text>
<rect x="322.1" y="11.9" width="357.7" height="156.2" fill="none" stroke="#262626" stroke-width="1.3" />
<text x="374.8" y="186.3" font-size="10.9" text-anchor="middle" fill="#262626">10<tspan dx="-0.2" dy="-6" font-size="8.5">-4</tspan></text>
<text x="475.2" y="186.3" font-size="10.9" text-anchor="middle" fill="#262626">10<tspan dx="-0.2" dy="-6" font-size="8.5">-2</tspan></text>
<text x="575.6" y="186.3" font-size="10.9" text-anchor="middle" fill="#262626">10<tspan dx="-0.2" dy="-6" font-size="8.5">0</tspan></text>
<text x="676" y="186.3" font-size="10.9" text-anchor="middle" fill="#262626">10<tspan dx="-0.2" dy="-6" font-size="8.5">2</tspan></text>
<text x="317.3" y="174.6" font-size="10.9" text-anchor="end" fill="#262626">10<tspan dx="-0.2" dy="-6" font-size="8.5">-3</tspan></text>
<text x="317.3" y="135.55" font-size="10.9" text-anchor="end" fill="#262626">10<tspan dx="-0.2" dy="-6" font-size="8.5">-2</tspan></text>
<text x="317.3" y="96.5" font-size="10.9" text-anchor="end" fill="#262626">10<tspan dx="-0.2" dy="-6" font-size="8.5">-1</tspan></text>
<text x="317.3" y="57.45" font-size="10.9" text-anchor="end" fill="#262626">10<tspan dx="-0.2" dy="-6" font-size="8.5">0</tspan></text>
<text x="317.3" y="18.4" font-size="10.9" text-anchor="end" fill="#262626">10<tspan dx="-0.2" dy="-6" font-size="8.5">1</tspan></text>
<text x="501.7" y="200.8" font-size="11.4" text-anchor="middle" fill="#262626" textLength="65.2" lengthAdjust="spacingAndGlyphs">Lag time <tspan font-style="italic">τ</tspan> [s]</text>
<text transform="translate(291,90.5) rotate(-90)" x="0" y="0" font-size="11.5" text-anchor="middle" fill="#262626" textLength="103" lengthAdjust="spacingAndGlyphs">Loss tangent 'tand<tspan font-style="italic">δ</tspan>'</text>
<text x="280.2" y="26.6" font-size="19" text-anchor="start" fill="#000" font-weight="bold" >c</text>
<rect x="318.8" y="224.3" width="83.2" height="156.1" fill="none" stroke="#262626" stroke-width="1.3" />
<text x="314.8" y="385.9" font-size="10.2" text-anchor="end" fill="#262626">10<tspan dx="0.2" dy="-6" font-size="7.8">-1</tspan></text>
<text x="314.8" y="333.87" font-size="10.2" text-anchor="end" fill="#262626">10<tspan dx="0.2" dy="-6" font-size="7.8">0</tspan></text>
<text x="314.8" y="281.83" font-size="10.2" text-anchor="end" fill="#262626">10<tspan dx="0.2" dy="-6" font-size="7.8">1</tspan></text>
<text x="314.8" y="229.8" font-size="10.2" text-anchor="end" fill="#262626">10<tspan dx="0.2" dy="-6" font-size="7.8">2</tspan></text>
<text x="332.67" y="394.1" font-size="10.8" text-anchor="middle" fill="#262626" font-weight="normal" >KD</text>
<text x="360.4" y="394.1" font-size="10.8" text-anchor="middle" fill="#262626" font-weight="normal" >WT</text>
<text x="388.13" y="394.1" font-size="10.8" text-anchor="middle" fill="#262626" font-weight="normal" >OE</text>
<text transform="translate(290.8,301) rotate(-90)" x="0" y="0" font-size="10.8" text-anchor="middle" fill="#262626" textLength="49" lengthAdjust="spacingAndGlyphs">Max Tan<tspan font-style="italic" font-family="Liberation Serif, serif">δ</tspan></text>
<text x="278.8" y="241.6" font-size="19" text-anchor="start" fill="#000" font-weight="bold" >d</text>
<rect x="461.4" y="224.3" width="76.9" height="156.1" fill="none" stroke="#262626" stroke-width="1.3" />
<text x="457.4" y="369.6" font-size="10.2" text-anchor="end" fill="#262626">10<tspan dx="0.2" dy="-6" font-size="7.8">-1</tspan></text>
<text x="457.4" y="309.7" font-size="10.2" text-anchor="end" fill="#262626">10<tspan dx="0.2" dy="-6" font-size="7.8">0</tspan></text>
<text x="457.4" y="249.8" font-size="10.2" text-anchor="end" fill="#262626">10<tspan dx="0.2" dy="-6" font-size="7.8">1</tspan></text>
<text x="474.22" y="394.1" font-size="10.8" text-anchor="middle" fill="#262626" font-weight="normal" >KD</text>
<text x="499.85" y="394.1" font-size="10.8" text-anchor="middle" fill="#262626" font-weight="normal" >WT</text>
<text x="525.48" y="394.1" font-size="10.8" text-anchor="middle" fill="#262626" font-weight="normal" >OE</text>
<text transform="translate(434,302) rotate(-90)" x="0" y="0" font-size="10.5" text-anchor="middle" fill="#262626" textLength="96.5" lengthAdjust="spacingAndGlyphs">Tan<tspan font-style="italic" font-family="Liberation Serif, serif">δ</tspan> Height at 10ms</text>
<text x="416.5" y="237.8" font-size="19" text-anchor="start" fill="#000" font-weight="bold" >e</text>
<rect x="596.9" y="225.2" width="83.4" height="156" fill="none" stroke="#262626" stroke-width="1.3" />
<text x="592.9" y="386.7" font-size="10.2" text-anchor="end" fill="#262626">10<tspan dx="0.2" dy="-6" font-size="7.8">-2</tspan></text>
<text x="592.9" y="334.7" font-size="10.2" text-anchor="end" fill="#262626">10<tspan dx="0.2" dy="-6" font-size="7.8">-1</tspan></text>
<text x="592.9" y="282.7" font-size="10.2" text-anchor="end" fill="#262626">10<tspan dx="0.2" dy="-6" font-size="7.8">0</tspan></text>
<text x="592.9" y="230.7" font-size="10.2" text-anchor="end" fill="#262626">10<tspan dx="0.2" dy="-6" font-size="7.8">1</tspan></text>
<text x="610.8" y="394.9" font-size="10.8" text-anchor="middle" fill="#262626" font-weight="normal" >KD</text>
<text x="638.6" y="394.9" font-size="10.8" text-anchor="middle" fill="#262626" font-weight="normal" >WT</text>
<text x="666.4" y="394.9" font-size="10.8" text-anchor="middle" fill="#262626" font-weight="normal" >OE</text>
<text transform="translate(570.5,302.7) rotate(-90)" x="0" y="0" font-size="10.5" text-anchor="middle" fill="#262626" textLength="110" lengthAdjust="spacingAndGlyphs">Relaxation minimum [s]</text>
<text x="558.9" y="237.5" font-size="19" text-anchor="start" fill="#000" font-weight="bold" >f</text>
<path d="M46.3,168L46.3,165.5M46.3,36L46.3,38.5M76.55,168L76.55,165.5M76.55,36L76.55,38.5M106.8,168L106.8,165.5M106.8,36L106.8,38.5M137.05,168L137.05,165.5M137.05,36L137.05,38.5M167.3,168L167.3,165.5M167.3,36L167.3,38.5M197.55,168L197.55,165.5M197.55,36L197.55,38.5M227.8,168L227.8,165.5M227.8,36L227.8,38.5M258.05,168L258.05,165.5M258.05,36L258.05,38.5M44.92,168L44.92,166.5M44.92,36L44.92,37.5M55.41,168L55.41,166.5M55.41,36L55.41,37.5M60.73,168L60.73,166.5M60.73,36L60.73,37.5M64.51,168L64.51,166.5M64.51,36L64.51,37.5M67.44,168L67.44,166.5M67.44,36L67.44,37.5M69.84,168L69.84,166.5M69.84,36L69.84,37.5M71.86,168L71.86,166.5M71.86,36L71.86,37.5M73.62,168L73.62,166.5M73.62,36L73.62,37.5M75.17,168L75.17,166.5M75.17,36L75.17,37.5M85.66,168L85.66,166.5M85.66,36L85.66,37.5M90.98,168L90.98,166.5M90.98,36L90.98,37.5M94.76,168L94.76,166.5M94.76,36L94.76,37.5M97.69,168L97.69,166.5M97.69,36L97.69,37.5M100.09,168L100.09,166.5M100.09,36L100.09,37.5M102.11,168L102.11,166.5M102.11,36L102.11,37.5M103.87,168L103.87,166.5M103.87,36L103.87,37.5M105.42,168L105.42,166.5M105.42,36L105.42,37.5M115.91,168L115.91,166.5M115.91,36L115.91,37.5M121.23,168L121.23,166.5M121.23,36L121.23,37.5M125.01,168L125.01,166.5M125.01,36L125.01,37.5M127.94,168L127.94,166.5M127.94,36L127.94,37.5M130.34,168L130.34,166.5M130.34,36L130.34,37.5M132.36,168L132.36,166.5M132.36,36L132.36,37.5M134.12,168L134.12,166.5M134.12,36L134.12,37.5M135.67,168L135.67,166.5M135.67,36L135.67,37.5M146.16,168L146.16,166.5M146.16,36L146.16,37.5M151.48,168L151.48,166.5M151.48,36L151.48,37.5M155.26,168L155.26,166.5M155.26,36L155.26,37.5M158.19,168L158.19,166.5M158.19,36L158.19,37.5M160.59,168L160.59,166.5M160.59,36L160.59,37.5M162.61,168L162.61,166.5M162.61,36L162.61,37.5M164.37,168L164.37,166.5M164.37,36L164.37,37.5M165.92,168L165.92,166.5M165.92,36L165.92,37.5M176.41,168L176.41,166.5M176.41,36L176.41,37.5M181.73,168L181.73,166.5M181.73,36L181.73,37.5M185.51,168L185.51,166.5M185.51,36L185.51,37.5M188.44,168L188.44,166.5M188.44,36L188.44,37.5M190.84,168L190.84,166.5M190.84,36L190.84,37.5M192.86,168L192.86,166.5M192.86,36L192.86,37.5M194.62,168L194.62,166.5M194.62,36L194.62,37.5M196.17,168L196.17,166.5M196.17,36L196.17,37.5M206.66,168L206.66,166.5M206.66,36L206.66,37.5M211.98,168L211.98,166.5M211.98,36L211.98,37.5M215.76,168L215.76,166.5M215.76,36L215.76,37.5M218.69,168L218.69,166.5M218.69,36L218.69,37.5M221.09,168L221.09,166.5M221.09,36L221.09,37.5M223.11,168L223.11,166.5M223.11,36L223.11,37.5M224.87,168L224.87,166.5M224.87,36L224.87,37.5M226.42,168L226.42,166.5M226.42,36L226.42,37.5M236.91,168L236.91,166.5M236.91,36L236.91,37.5M242.23,168L242.23,166.5M242.23,36L242.23,37.5M246.01,168L246.01,166.5M246.01,36L246.01,37.5M248.94,168L248.94,166.5M248.94,36L248.94,37.5M251.34,168L251.34,166.5M251.34,36L251.34,37.5M253.36,168L253.36,166.5M253.36,36L253.36,37.5M255.12,168L255.12,166.5M255.12,36L255.12,37.5M256.67,168L256.67,166.5M256.67,36L256.67,37.5M43.5,168L46,168M260.3,168L257.8,168M43.5,146L46,146M260.3,146L257.8,146M43.5,124L46,124M260.3,124L257.8,124M43.5,102L46,102M260.3,102L257.8,102M43.5,80L46,80M260.3,80L257.8,80M43.5,58L46,58M260.3,58L257.8,58M43.5,36L46,36M260.3,36L257.8,36M43.5,161.38L45,161.38M260.3,161.38L258.8,161.38M43.5,157.5L45,157.5M260.3,157.5L258.8,157.5M43.5,154.75L45,154.75M260.3,154.75L258.8,154.75M43.5,152.62L45,152.62M260.3,152.62L258.8,152.62M43.5,150.88L45,150.88M260.3,150.88L258.8,150.88M43.5,149.41L45,149.41M260.3,149.41L258.8,149.41M43.5,148.13L45,148.13M260.3,148.13L258.8,148.13M43.5,147.01L45,147.01M260.3,147.01L258.8,147.01M43.5,139.38L45,139.38M260.3,139.38L258.8,139.38M43.5,135.5L45,135.5M260.3,135.5L258.8,135.5M43.5,132.75L45,132.75M260.3,132.75L258.8,132.75M43.5,130.62L45,130.62M260.3,130.62L258.8,130.62M43.5,128.88L45,128.88M260.3,128.88L258.8,128.88M43.5,127.41L45,127.41M260.3,127.41L258.8,127.41M43.5,126.13L45,126.13M260.3,126.13L258.8,126.13M43.5,125.01L45,125.01M260.3,125.01L258.8,125.01M43.5,117.38L45,117.38M260.3,117.38L258.8,117.38M43.5,113.5L45,113.5M260.3,113.5L258.8,113.5M43.5,110.75L45,110.75M260.3,110.75L258.8,110.75M43.5,108.62L45,108.62M260.3,108.62L258.8,108.62M43.5,106.88L45,106.88M260.3,106.88L258.8,106.88M43.5,105.41L45,105.41M260.3,105.41L258.8,105.41M43.5,104.13L45,104.13M260.3,104.13L258.8,104.13M43.5,103.01L45,103.01M260.3,103.01L258.8,103.01M43.5,95.38L45,95.38M260.3,95.38L258.8,95.38M43.5,91.5L45,91.5M260.3,91.5L258.8,91.5M43.5,88.75L45,88.75M260.3,88.75L258.8,88.75M43.5,86.62L45,86.62M260.3,86.62L258.8,86.62M43.5,84.88L45,84.88M260.3,84.88L258.8,84.88M43.5,83.41L45,83.41M260.3,83.41L258.8,83.41M43.5,82.13L45,82.13M260.3,82.13L258.8,82.13M43.5,81.01L45,81.01M260.3,81.01L258.8,81.01M43.5,73.38L45,73.38M260.3,73.38L258.8,73.38M43.5,69.5L45,69.5M260.3,69.5L258.8,69.5M43.5,66.75L45,66.75M260.3,66.75L258.8,66.75M43.5,64.62L45,64.62M260.3,64.62L258.8,64.62M43.5,62.88L45,62.88M260.3,62.88L258.8,62.88M43.5,61.41L45,61.41M260.3,61.41L258.8,61.41M43.5,60.13L45,60.13M260.3,60.13L258.8,60.13M43.5,59.01L45,59.01M260.3,59.01L258.8,59.01M43.5,51.38L45,51.38M260.3,51.38L258.8,51.38M43.5,47.5L45,47.5M260.3,47.5L258.8,47.5M43.5,44.75L45,44.75M260.3,44.75L258.8,44.75M43.5,42.62L45,42.62M260.3,42.62L258.8,42.62M43.5,40.88L45,40.88M260.3,40.88L258.8,40.88M43.5,39.41L45,39.41M260.3,39.41L258.8,39.41M43.5,38.13L45,38.13M260.3,38.13L258.8,38.13M43.5,37.01L45,37.01M260.3,37.01L258.8,37.01M46.3,381L46.3,378.5M46.3,249L46.3,251.5M76.55,381L76.55,378.5M76.55,249L76.55,251.5M106.8,381L106.8,378.5M106.8,249L106.8,251.5M137.05,381L137.05,378.5M137.05,249L137.05,251.5M167.3,381L167.3,378.5M167.3,249L167.3,251.5M197.55,381L197.55,378.5M197.55,249L197.55,251.5M227.8,381L227.8,378.5M227.8,249L227.8,251.5M258.05,381L258.05,378.5M258.05,249L258.05,251.5M44.92,381L44.92,379.5M44.92,249L44.92,250.5M55.41,381L55.41,379.5M55.41,249L55.41,250.5M60.73,381L60.73,379.5M60.73,249L60.73,250.5M64.51,381L64.51,379.5M64.51,249L64.51,250.5M67.44,381L67.44,379.5M67.44,249L67.44,250.5M69.84,381L69.84,379.5M69.84,249L69.84,250.5M71.86,381L71.86,379.5M71.86,249L71.86,250.5M73.62,381L73.62,379.5M73.62,249L73.62,250.5M75.17,381L75.17,379.5M75.17,249L75.17,250.5M85.66,381L85.66,379.5M85.66,249L85.66,250.5M90.98,381L90.98,379.5M90.98,249L90.98,250.5M94.76,381L94.76,379.5M94.76,249L94.76,250.5M97.69,381L97.69,379.5M97.69,249L97.69,250.5M100.09,381L100.09,379.5M100.09,249L100.09,250.5M102.11,381L102.11,379.5M102.11,249L102.11,250.5M103.87,381L103.87,379.5M103.87,249L103.87,250.5M105.42,381L105.42,379.5M105.42,249L105.42,250.5M115.91,381L115.91,379.5M115.91,249L115.91,250.5M121.23,381L121.23,379.5M121.23,249L121.23,250.5M125.01,381L125.01,379.5M125.01,249L125.01,250.5M127.94,381L127.94,379.5M127.94,249L127.94,250.5M130.34,381L130.34,379.5M130.34,249L130.34,250.5M132.36,381L132.36,379.5M132.36,249L132.36,250.5M134.12,381L134.12,379.5M134.12,249L134.12,250.5M135.67,381L135.67,379.5M135.67,249L135.67,250.5M146.16,381L146.16,379.5M146.16,249L146.16,250.5M151.48,381L151.48,379.5M151.48,249L151.48,250.5M155.26,381L155.26,379.5M155.26,249L155.26,250.5M158.19,381L158.19,379.5M158.19,249L158.19,250.5M160.59,381L160.59,379.5M160.59,249L160.59,250.5M162.61,381L162.61,379.5M162.61,249L162.61,250.5M164.37,381L164.37,379.5M164.37,249L164.37,250.5M165.92,381L165.92,379.5M165.92,249L165.92,250.5M176.41,381L176.41,379.5M176.41,249L176.41,250.5M181.73,381L181.73,379.5M181.73,249L181.73,250.5M185.51,381L185.51,379.5M185.51,249L185.51,250.5M188.44,381L188.44,379.5M188.44,249L188.44,250.5M190.84,381L190.84,379.5M190.84,249L190.84,250.5M192.86,381L192.86,379.5M192.86,249L192.86,250.5M194.62,381L194.62,379.5M194.62,249L194.62,250.5M196.17,381L196.17,379.5M196.17,249L196.17,250.5M206.66,381L206.66,379.5M206.66,249L206.66,250.5M211.98,381L211.98,379.5M211.98,249L211.98,250.5M215.76,381L215.76,379.5M215.76,249L215.76,250.5M218.69,381L218.69,379.5M218.69,249L218.69,250.5M221.09,381L221.09,379.5M221.09,249L221.09,250.5M223.11,381L223.11,379.5M223.11,249L223.11,250.5M224.87,381L224.87,379.5M224.87,249L224.87,250.5M226.42,381L226.42,379.5M226.42,249L226.42,250.5M236.91,381L236.91,379.5M236.91,249L236.91,250.5M242.23,381L242.23,379.5M242.23,249L242.23,250.5M246.01,381L246.01,379.5M246.01,249L246.01,250.5M248.94,381L248.94,379.5M248.94,249L248.94,250.5M251.34,381L251.34,379.5M251.34,249L251.34,250.5M253.36,381L253.36,379.5M253.36,249L253.36,250.5M255.12,381L255.12,379.5M255.12,249L255.12,250.5M256.67,381L256.67,379.5M256.67,249L256.67,250.5M43.5,381L46,381M260.3,381L257.8,381M43.5,359L46,359M260.3,359L257.8,359M43.5,337L46,337M260.3,337L257.8,337M43.5,315L46,315M260.3,315L257.8,315M43.5,293L46,293M260.3,293L257.8,293M43.5,271L46,271M260.3,271L257.8,271M43.5,249L46,249M260.3,249L257.8,249M43.5,374.38L45,374.38M260.3,374.38L258.8,374.38M43.5,370.5L45,370.5M260.3,370.5L258.8,370.5M43.5,367.75L45,367.75M260.3,367.75L258.8,367.75M43.5,365.62L45,365.62M260.3,365.62L258.8,365.62M43.5,363.88L45,363.88M260.3,363.88L258.8,363.88M43.5,362.41L45,362.41M260.3,362.41L258.8,362.41M43.5,361.13L45,361.13M260.3,361.13L258.8,361.13M43.5,360.01L45,360.01M260.3,360.01L258.8,360.01M43.5,352.38L45,352.38M260.3,352.38L258.8,352.38M43.5,348.5L45,348.5M260.3,348.5L258.8,348.5M43.5,345.75L45,345.75M260.3,345.75L258.8,345.75M43.5,343.62L45,343.62M260.3,343.62L258.8,343.62M43.5,341.88L45,341.88M260.3,341.88L258.8,341.88M43.5,340.41L45,340.41M260.3,340.41L258.8,340.41M43.5,339.13L45,339.13M260.3,339.13L258.8,339.13M43.5,338.01L45,338.01M260.3,338.01L258.8,338.01M43.5,330.38L45,330.38M260.3,330.38L258.8,330.38M43.5,326.5L45,326.5M260.3,326.5L258.8,326.5M43.5,323.75L45,323.75M260.3,323.75L258.8,323.75M43.5,321.62L45,321.62M260.3,321.62L258.8,321.62M43.5,319.88L45,319.88M260.3,319.88L258.8,319.88M43.5,318.41L45,318.41M260.3,318.41L258.8,318.41M43.5,317.13L45,317.13M260.3,317.13L258.8,317.13M43.5,316.01L45,316.01M260.3,316.01L258.8,316.01M43.5,308.38L45,308.38M260.3,308.38L258.8,308.38M43.5,304.5L45,304.5M260.3,304.5L258.8,304.5M43.5,301.75L45,301.75M260.3,301.75L258.8,301.75M43.5,299.62L45,299.62M260.3,299.62L258.8,299.62M43.5,297.88L45,297.88M260.3,297.88L258.8,297.88M43.5,296.41L45,296.41M260.3,296.41L258.8,296.41M43.5,295.13L45,295.13M260.3,295.13L258.8,295.13M43.5,294.01L45,294.01M260.3,294.01L258.8,294.01M43.5,286.38L45,286.38M260.3,286.38L258.8,286.38M43.5,282.5L45,282.5M260.3,282.5L258.8,282.5M43.5,279.75L45,279.75M260.3,279.75L258.8,279.75M43.5,277.62L45,277.62M260.3,277.62L258.8,277.62M43.5,275.88L45,275.88M260.3,275.88L258.8,275.88M43.5,274.41L45,274.41M260.3,274.41L258.8,274.41M43.5,273.13L45,273.13M260.3,273.13L258.8,273.13M43.5,272.01L45,272.01M260.3,272.01L258.8,272.01M43.5,264.38L45,264.38M260.3,264.38L258.8,264.38M43.5,260.5L45,260.5M260.3,260.5L258.8,260.5M43.5,257.75L45,257.75M260.3,257.75L258.8,257.75M43.5,255.62L45,255.62M260.3,255.62L258.8,255.62M43.5,253.88L45,253.88M260.3,253.88L258.8,253.88M43.5,252.41L45,252.41M260.3,252.41L258.8,252.41M43.5,251.13L45,251.13M260.3,251.13L258.8,251.13M43.5,250.01L45,250.01M260.3,250.01L258.8,250.01M324.6,168.1L324.6,165.6M324.6,11.9L324.6,14.4M374.8,168.1L374.8,165.6M374.8,11.9L374.8,14.4M425,168.1L425,165.6M425,11.9L425,14.4M475.2,168.1L475.2,165.6M475.2,11.9L475.2,14.4M525.4,168.1L525.4,165.6M525.4,11.9L525.4,14.4M575.6,168.1L575.6,165.6M575.6,11.9L575.6,14.4M625.8,168.1L625.8,165.6M625.8,11.9L625.8,14.4M676,168.1L676,165.6M676,11.9L676,14.4M322.3,168.1L322.3,166.6M322.3,11.9L322.3,13.4M339.71,168.1L339.71,166.6M339.71,11.9L339.71,13.4M348.55,168.1L348.55,166.6M348.55,11.9L348.55,13.4M354.82,168.1L354.82,166.6M354.82,11.9L354.82,13.4M359.69,168.1L359.69,166.6M359.69,11.9L359.69,13.4M363.66,168.1L363.66,166.6M363.66,11.9L363.66,13.4M367.02,168.1L367.02,166.6M367.02,11.9L367.02,13.4M369.94,168.1L369.94,166.6M369.94,11.9L369.94,13.4M372.5,168.1L372.5,166.6M372.5,11.9L372.5,13.4M389.91,168.1L389.91,166.6M389.91,11.9L389.91,13.4M398.75,168.1L398.75,166.6M398.75,11.9L398.75,13.4M405.02,168.1L405.02,166.6M405.02,11.9L405.02,13.4M409.89,168.1L409.89,166.6M409.89,11.9L409.89,13.4M413.86,168.1L413.86,166.6M413.86,11.9L413.86,13.4M417.22,168.1L417.22,166.6M417.22,11.9L417.22,13.4M420.14,168.1L420.14,166.6M420.14,11.9L420.14,13.4M422.7,168.1L422.7,166.6M422.7,11.9L422.7,13.4M440.11,168.1L440.11,166.6M440.11,11.9L440.11,13.4M448.95,168.1L448.95,166.6M448.95,11.9L448.95,13.4M455.22,168.1L455.22,166.6M455.22,11.9L455.22,13.4M460.09,168.1L460.09,166.6M460.09,11.9L460.09,13.4M464.06,168.1L464.06,166.6M464.06,11.9L464.06,13.4M467.42,168.1L467.42,166.6M467.42,11.9L467.42,13.4M470.34,168.1L470.34,166.6M470.34,11.9L470.34,13.4M472.9,168.1L472.9,166.6M472.9,11.9L472.9,13.4M490.31,168.1L490.31,166.6M490.31,11.9L490.31,13.4M499.15,168.1L499.15,166.6M499.15,11.9L499.15,13.4M505.42,168.1L505.42,166.6M505.42,11.9L505.42,13.4M510.29,168.1L510.29,166.6M510.29,11.9L510.29,13.4M514.26,168.1L514.26,166.6M514.26,11.9L514.26,13.4M517.62,168.1L517.62,166.6M517.62,11.9L517.62,13.4M520.54,168.1L520.54,166.6M520.54,11.9L520.54,13.4M523.1,168.1L523.1,166.6M523.1,11.9L523.1,13.4M540.51,168.1L540.51,166.6M540.51,11.9L540.51,13.4M549.35,168.1L549.35,166.6M549.35,11.9L549.35,13.4M555.62,168.1L555.62,166.6M555.62,11.9L555.62,13.4M560.49,168.1L560.49,166.6M560.49,11.9L560.49,13.4M564.46,168.1L564.46,166.6M564.46,11.9L564.46,13.4M567.82,168.1L567.82,166.6M567.82,11.9L567.82,13.4M570.74,168.1L570.74,166.6M570.74,11.9L570.74,13.4M573.3,168.1L573.3,166.6M573.3,11.9L573.3,13.4M590.71,168.1L590.71,166.6M590.71,11.9L590.71,13.4M599.55,168.1L599.55,166.6M599.55,11.9L599.55,13.4M605.82,168.1L605.82,166.6M605.82,11.9L605.82,13.4M610.69,168.1L610.69,166.6M610.69,11.9L610.69,13.4M614.66,168.1L614.66,166.6M614.66,11.9L614.66,13.4M618.02,168.1L618.02,166.6M618.02,11.9L618.02,13.4M620.94,168.1L620.94,166.6M620.94,11.9L620.94,13.4M623.5,168.1L623.5,166.6M623.5,11.9L623.5,13.4M640.91,168.1L640.91,166.6M640.91,11.9L640.91,13.4M649.75,168.1L649.75,166.6M649.75,11.9L649.75,13.4M656.02,168.1L656.02,166.6M656.02,11.9L656.02,13.4M660.89,168.1L660.89,166.6M660.89,11.9L660.89,13.4M664.86,168.1L664.86,166.6M664.86,11.9L664.86,13.4M668.22,168.1L668.22,166.6M668.22,11.9L668.22,13.4M671.14,168.1L671.14,166.6M671.14,11.9L671.14,13.4M673.7,168.1L673.7,166.6M673.7,11.9L673.7,13.4M322.1,156.34L324.2,156.34M679.8,156.34L677.7,156.34M322.1,149.47L324.2,149.47M679.8,149.47L677.7,149.47M322.1,144.59L324.2,144.59M679.8,144.59L677.7,144.59M322.1,140.81L324.2,140.81M679.8,140.81L677.7,140.81M322.1,137.71L324.2,137.71M679.8,137.71L677.7,137.71M322.1,135.1L324.2,135.1M679.8,135.1L677.7,135.1M322.1,132.83L324.2,132.83M679.8,132.83L677.7,132.83M322.1,130.84L324.2,130.84M679.8,130.84L677.7,130.84M322.1,117.29L324.2,117.29M679.8,117.29L677.7,117.29M322.1,110.42L324.2,110.42M679.8,110.42L677.7,110.42M322.1,105.54L324.2,105.54M679.8,105.54L677.7,105.54M322.1,101.76L324.2,101.76M679.8,101.76L677.7,101.76M322.1,98.66L324.2,98.66M679.8,98.66L677.7,98.66M322.1,96.05L324.2,96.05M679.8,96.05L677.7,96.05M322.1,93.78L324.2,93.78M679.8,93.78L677.7,93.78M322.1,91.79L324.2,91.79M679.8,91.79L677.7,91.79M322.1,78.24L324.2,78.24M679.8,78.24L677.7,78.24M322.1,71.37L324.2,71.37M679.8,71.37L677.7,71.37M322.1,66.49L324.2,66.49M679.8,66.49L677.7,66.49M322.1,62.71L324.2,62.71M679.8,62.71L677.7,62.71M322.1,59.61L324.2,59.61M679.8,59.61L677.7,59.61M322.1,57L324.2,57M679.8,57L677.7,57M322.1,54.73L324.2,54.73M679.8,54.73L677.7,54.73M322.1,52.74L324.2,52.74M679.8,52.74L677.7,52.74M322.1,39.19L324.2,39.19M679.8,39.19L677.7,39.19M322.1,32.32L324.2,32.32M679.8,32.32L677.7,32.32M322.1,27.44L324.2,27.44M679.8,27.44L677.7,27.44M322.1,23.66L324.2,23.66M679.8,23.66L677.7,23.66M322.1,20.56L324.2,20.56M679.8,20.56L677.7,20.56M322.1,17.95L324.2,17.95M679.8,17.95L677.7,17.95M322.1,15.68L324.2,15.68M679.8,15.68L677.7,15.68M322.1,13.69L324.2,13.69M679.8,13.69L677.7,13.69M332.67,380.4L332.67,377.9M332.67,224.3L332.67,226.8M360.4,380.4L360.4,377.9M360.4,224.3L360.4,226.8M388.13,380.4L388.13,377.9M388.13,224.3L388.13,226.8M318.8,364.74L320.9,364.74M402,364.74L399.9,364.74M318.8,355.57L320.9,355.57M402,355.57L399.9,355.57M318.8,349.07L320.9,349.07M402,349.07L399.9,349.07M318.8,344.03L320.9,344.03M402,344.03L399.9,344.03M318.8,339.91L320.9,339.91M402,339.91L399.9,339.91M318.8,336.43L320.9,336.43M402,336.43L399.9,336.43M318.8,333.41L320.9,333.41M402,333.41L399.9,333.41M318.8,330.75L320.9,330.75M402,330.75L399.9,330.75M318.8,312.7L320.9,312.7M402,312.7L399.9,312.7M318.8,303.54L320.9,303.54M402,303.54L399.9,303.54M318.8,297.04L320.9,297.04M402,297.04L399.9,297.04M318.8,292L320.9,292M402,292L399.9,292M318.8,287.88L320.9,287.88M402,287.88L399.9,287.88M318.8,284.39L320.9,284.39M402,284.39L399.9,284.39M318.8,281.38L320.9,281.38M402,281.38L399.9,281.38M318.8,278.71L320.9,278.71M402,278.71L399.9,278.71M318.8,260.67L320.9,260.67M402,260.67L399.9,260.67M318.8,251.51L320.9,251.51M402,251.51L399.9,251.51M318.8,245.01L320.9,245.01M402,245.01L399.9,245.01M318.8,239.96L320.9,239.96M402,239.96L399.9,239.96M318.8,235.84L320.9,235.84M402,235.84L399.9,235.84M318.8,232.36L320.9,232.36M402,232.36L399.9,232.36M318.8,229.34L320.9,229.34M402,229.34L399.9,229.34M318.8,226.68L320.9,226.68M402,226.68L399.9,226.68M474.22,380.4L474.22,377.9M474.22,224.3L474.22,226.8M499.85,380.4L499.85,377.9M499.85,224.3L499.85,226.8M525.48,380.4L525.48,377.9M525.48,224.3L525.48,226.8M461.4,377.39L463.5,377.39M538.3,377.39L536.2,377.39M461.4,373.38L463.5,373.38M538.3,373.38L536.2,373.38M461.4,369.9L463.5,369.9M538.3,369.9L536.2,369.9M461.4,366.84L463.5,366.84M538.3,366.84L536.2,366.84M461.4,346.07L463.5,346.07M538.3,346.07L536.2,346.07M461.4,335.52L463.5,335.52M538.3,335.52L536.2,335.52M461.4,328.04L463.5,328.04M538.3,328.04L536.2,328.04M461.4,322.23L463.5,322.23M538.3,322.23L536.2,322.23M461.4,317.49L463.5,317.49M538.3,317.49L536.2,317.49M461.4,313.48L463.5,313.48M538.3,313.48L536.2,313.48M461.4,310L463.5,310M538.3,310L536.2,310M461.4,306.94L463.5,306.94M538.3,306.94L536.2,306.94M461.4,286.17L463.5,286.17M538.3,286.17L536.2,286.17M461.4,275.62L463.5,275.62M538.3,275.62L536.2,275.62M461.4,268.14L463.5,268.14M538.3,268.14L536.2,268.14M461.4,262.33L463.5,262.33M538.3,262.33L536.2,262.33M461.4,257.59L463.5,257.59M538.3,257.59L536.2,257.59M461.4,253.58L463.5,253.58M538.3,253.58L536.2,253.58M461.4,250.1L463.5,250.1M538.3,250.1L536.2,250.1M461.4,247.04L463.5,247.04M538.3,247.04L536.2,247.04M461.4,226.27L463.5,226.27M538.3,226.27L536.2,226.27M610.8,381.2L610.8,378.7M610.8,225.2L610.8,227.7M638.6,381.2L638.6,378.7M638.6,225.2L638.6,227.7M666.4,381.2L666.4,378.7M666.4,225.2L666.4,227.7M596.9,365.55L599,365.55M680.3,365.55L678.2,365.55M596.9,356.39L599,356.39M680.3,356.39L678.2,356.39M596.9,349.89L599,349.89M680.3,349.89L678.2,349.89M596.9,344.85L599,344.85M680.3,344.85L678.2,344.85M596.9,340.74L599,340.74M680.3,340.74L678.2,340.74M596.9,337.25L599,337.25M680.3,337.25L678.2,337.25M596.9,334.24L599,334.24M680.3,334.24L678.2,334.24M596.9,331.58L599,331.58M680.3,331.58L678.2,331.58M596.9,313.55L599,313.55M680.3,313.55L678.2,313.55M596.9,304.39L599,304.39M680.3,304.39L678.2,304.39M596.9,297.89L599,297.89M680.3,297.89L678.2,297.89M596.9,292.85L599,292.85M680.3,292.85L678.2,292.85M596.9,288.74L599,288.74M680.3,288.74L678.2,288.74M596.9,285.25L599,285.25M680.3,285.25L678.2,285.25M596.9,282.24L599,282.24M680.3,282.24L678.2,282.24M596.9,279.58L599,279.58M680.3,279.58L678.2,279.58M596.9,261.55L599,261.55M680.3,261.55L678.2,261.55M596.9,252.39L599,252.39M680.3,252.39L678.2,252.39M596.9,245.89L599,245.89M680.3,245.89L678.2,245.89M596.9,240.85L599,240.85M680.3,240.85L678.2,240.85M596.9,236.74L599,236.74M680.3,236.74L678.2,236.74M596.9,233.25L599,233.25M680.3,233.25L678.2,233.25M596.9,230.24L599,230.24M680.3,230.24L678.2,230.24M596.9,227.58L599,227.58M680.3,227.58L678.2,227.58" stroke="#262626" stroke-width="0.8" fill="none"/>
<path d="M259.43,36.5L259.43,37.8M258.05,36.5L258.05,38.6M248.94,36.5L248.94,37.8M243.62,36.5L243.62,37.8M239.84,36.5L239.84,37.8M236.91,36.5L236.91,37.8M234.51,36.5L234.51,37.8M232.49,36.5L232.49,37.8M230.73,36.5L230.73,37.8M229.18,36.5L229.18,37.8M227.8,36.5L227.8,38.6M218.69,36.5L218.69,37.8M213.37,36.5L213.37,37.8M209.59,36.5L209.59,37.8M206.66,36.5L206.66,37.8M204.26,36.5L204.26,37.8M202.24,36.5L202.24,37.8M200.48,36.5L200.48,37.8M198.93,36.5L198.93,37.8M197.55,36.5L197.55,38.6M188.44,36.5L188.44,37.8M183.12,36.5L183.12,37.8M179.34,36.5L179.34,37.8M176.41,36.5L176.41,37.8M174.01,36.5L174.01,37.8M171.99,36.5L171.99,37.8M170.23,36.5L170.23,37.8M168.68,36.5L168.68,37.8M167.3,36.5L167.3,38.6M158.19,36.5L158.19,37.8M152.87,36.5L152.87,37.8M149.09,36.5L149.09,37.8M146.16,36.5L146.16,37.8M143.76,36.5L143.76,37.8M141.74,36.5L141.74,37.8M139.98,36.5L139.98,37.8M138.43,36.5L138.43,37.8M137.05,36.5L137.05,38.6M127.94,36.5L127.94,37.8M122.62,36.5L122.62,37.8M118.84,36.5L118.84,37.8M115.91,36.5L115.91,37.8M113.51,36.5L113.51,37.8M111.49,36.5L111.49,37.8M109.73,36.5L109.73,37.8M108.18,36.5L108.18,37.8M106.8,36.5L106.8,38.6M97.69,36.5L97.69,37.8M92.37,36.5L92.37,37.8M88.59,36.5L88.59,37.8M85.66,36.5L85.66,37.8M83.26,36.5L83.26,37.8M81.24,36.5L81.24,37.8M79.48,36.5L79.48,37.8M77.93,36.5L77.93,37.8M76.55,36.5L76.55,38.6M67.44,36.5L67.44,37.8M62.12,36.5L62.12,37.8M58.34,36.5L58.34,37.8M55.41,36.5L55.41,37.8M53.01,36.5L53.01,37.8M50.99,36.5L50.99,37.8M49.23,36.5L49.23,37.8M47.68,36.5L47.68,37.8M46.3,36.5L46.3,38.6M259.43,249.5L259.43,250.8M258.05,249.5L258.05,251.6M248.94,249.5L248.94,250.8M243.62,249.5L243.62,250.8M239.84,249.5L239.84,250.8M236.91,249.5L236.91,250.8M234.51,249.5L234.51,250.8M232.49,249.5L232.49,250.8M230.73,249.5L230.73,250.8M229.18,249.5L229.18,250.8M227.8,249.5L227.8,251.6M218.69,249.5L218.69,250.8M213.37,249.5L213.37,250.8M209.59,249.5L209.59,250.8M206.66,249.5L206.66,250.8M204.26,249.5L204.26,250.8M202.24,249.5L202.24,250.8M200.48,249.5L200.48,250.8M198.93,249.5L198.93,250.8M197.55,249.5L197.55,251.6M188.44,249.5L188.44,250.8M183.12,249.5L183.12,250.8M179.34,249.5L179.34,250.8M176.41,249.5L176.41,250.8M174.01,249.5L174.01,250.8M171.99,249.5L171.99,250.8M170.23,249.5L170.23,250.8M168.68,249.5L168.68,250.8M167.3,249.5L167.3,251.6M158.19,249.5L158.19,250.8M152.87,249.5L152.87,250.8M149.09,249.5L149.09,250.8M146.16,249.5L146.16,250.8M143.76,249.5L143.76,250.8M141.74,249.5L141.74,250.8M139.98,249.5L139.98,250.8M138.43,249.5L138.43,250.8M137.05,249.5L137.05,251.6M127.94,249.5L127.94,250.8M122.62,249.5L122.62,250.8M118.84,249.5L118.84,250.8M115.91,249.5L115.91,250.8M113.51,249.5L113.51,250.8M111.49,249.5L111.49,250.8M109.73,249.5L109.73,250.8M108.18,249.5L108.18,250.8M106.8,249.5L106.8,251.6M97.69,249.5L97.69,250.8M92.37,249.5L92.37,250.8M88.59,249.5L88.59,250.8M85.66,249.5L85.66,250.8M83.26,249.5L83.26,250.8M81.24,249.5L81.24,250.8M79.48,249.5L79.48,250.8M77.93,249.5L77.93,250.8M76.55,249.5L76.55,251.6M67.44,249.5L67.44,250.8M62.12,249.5L62.12,250.8M58.34,249.5L58.34,250.8M55.41,249.5L55.41,250.8M53.01,249.5L53.01,250.8M50.99,249.5L50.99,250.8M49.23,249.5L49.23,250.8M47.68,249.5L47.68,250.8M46.3,249.5L46.3,251.6" stroke="#77AC30" stroke-width="0.8" fill="none"/>
<path d="M322.1,168.1L325.7,168.1M679.8,168.1L676.2,168.1M322.1,129.05L325.7,129.05M679.8,129.05L676.2,129.05M322.1,90L325.7,90M679.8,90L676.2,90M322.1,50.95L325.7,50.95M679.8,50.95L676.2,50.95M322.1,11.9L325.7,11.9M679.8,11.9L676.2,11.9M318.8,380.4L322.4,380.4M402,380.4L398.4,380.4M318.8,328.37L322.4,328.37M402,328.37L398.4,328.37M318.8,276.33L322.4,276.33M402,276.33L398.4,276.33M318.8,224.3L322.4,224.3M402,224.3L398.4,224.3M461.4,364.1L465,364.1M538.3,364.1L534.7,364.1M461.4,304.2L465,304.2M538.3,304.2L534.7,304.2M461.4,244.3L465,244.3M538.3,244.3L534.7,244.3M596.9,381.2L600.5,381.2M680.3,381.2L676.7,381.2M596.9,329.2L600.5,329.2M680.3,329.2L676.7,329.2M596.9,277.2L600.5,277.2M680.3,277.2L676.7,277.2M596.9,225.2L600.5,225.2M680.3,225.2L676.7,225.2" stroke="#262626" stroke-width="0.9" fill="none"/>
<rect x="207.2" y="42.8" width="46.3" height="33.4" fill="#fff" stroke="#333" stroke-width="1.1"/>
<line x1="210" y1="51.8" x2="236.1" y2="51.8" stroke="#FF0000" stroke-width="1.3"/>
<circle cx="222.9" cy="51.8" r="2.6" fill="none" stroke="#FF0000" stroke-width="0.9"/>
<text x="238.7" y="57.199999999999996" font-size="11.5" fill="#1a1a1a"><tspan font-style="italic">κ</tspan><tspan font-size="10" font-weight="bold" dx="0.6" dy="-1.8">'</tspan></text>
<line x1="210" y1="67.4" x2="236.1" y2="67.4" stroke="#0000FF" stroke-width="1.3"/>
<circle cx="222.9" cy="67.4" r="2.6" fill="none" stroke="#0000FF" stroke-width="0.9"/>
<text x="238.7" y="72.80000000000001" font-size="11.5" fill="#1a1a1a"><tspan font-style="italic">κ</tspan><tspan font-size="10" font-weight="bold" dx="0.6" dy="-1.8">"</tspan></text></svg></body></html>
